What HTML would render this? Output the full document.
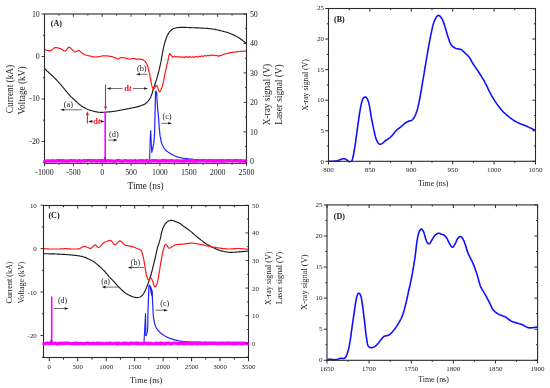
<!DOCTYPE html>
<html><head><meta charset="utf-8"><title>Figure</title>
<style>html,body{margin:0;padding:0;background:#fff;}body{width:550px;height:388px;overflow:hidden;font-family:"Liberation Serif", serif;}svg{display:block;will-change:transform;}</style>
</head><body>
<svg width="550" height="388" viewBox="0 0 550 388" font-family='"Liberation Serif", serif'>
<rect width="550" height="388" fill="#fff"/>
<path d="M44.5,68.5 L45.1,69.1 L45.7,69.6 L46.2,70.2 L46.8,70.7 L47.4,71.3 L48.0,71.8 L48.6,72.4 L49.2,73.0 L49.9,73.6 L50.6,74.2 L51.2,74.8 L51.9,75.4 L52.6,76.0 L53.3,76.7 L53.8,77.2 L54.4,77.8 L54.9,78.3 L55.5,78.9 L56.1,79.5 L56.7,80.1 L57.2,80.7 L57.8,81.3 L58.4,82.0 L58.9,82.6 L59.5,83.2 L60.0,83.8 L60.6,84.4 L61.1,85.0 L61.6,85.7 L62.1,86.3 L62.7,86.9 L63.2,87.6 L63.7,88.2 L64.2,88.8 L64.7,89.4 L65.2,90.0 L65.7,90.6 L66.3,91.3 L66.9,92.0 L67.5,92.7 L68.0,93.3 L68.6,94.0 L69.1,94.6 L69.7,95.3 L70.3,95.9 L70.9,96.5 L71.4,97.1 L72.0,97.6 L72.6,98.2 L73.2,98.7 L73.8,99.3 L74.4,99.8 L75.0,100.4 L75.6,100.9 L76.2,101.5 L76.7,102.0 L77.3,102.6 L78.0,103.1 L78.6,103.7 L79.2,104.2 L79.8,104.7 L80.5,105.2 L81.1,105.7 L81.8,106.2 L82.6,106.7 L83.3,107.2 L84.1,107.6 L84.9,108.0 L85.7,108.4 L86.5,108.8 L87.3,109.2 L88.0,109.5 L88.8,109.8 L89.6,110.1 L90.4,110.3 L91.2,110.6 L92.0,110.8 L92.8,111.0 L93.6,111.3 L94.4,111.4 L95.1,111.6 L96.0,111.8 L96.8,111.9 L97.6,112.1 L98.4,112.2 L99.2,112.2 L100.0,112.3 L100.9,112.3 L101.8,112.3 L102.7,112.3 L103.6,112.2 L104.5,112.2 L105.5,112.1 L106.2,112.1 L107.0,112.0 L107.8,112.0 L108.6,111.9 L109.4,111.8 L110.3,111.8 L111.1,111.7 L111.9,111.6 L112.8,111.5 L113.6,111.4 L114.4,111.3 L115.2,111.2 L116.0,111.0 L116.9,110.9 L117.7,110.7 L118.5,110.5 L119.4,110.4 L120.2,110.2 L121.0,110.0 L121.9,109.9 L122.7,109.7 L123.5,109.5 L124.4,109.4 L125.3,109.2 L126.2,109.1 L127.0,108.9 L127.9,108.7 L128.7,108.6 L129.6,108.4 L130.4,108.3 L131.1,108.1 L131.8,108.0 L132.7,107.8 L133.6,107.6 L134.4,107.5 L135.2,107.3 L136.0,107.1 L136.9,106.9 L137.8,106.6 L138.8,106.4 L139.7,106.1 L140.6,105.8 L141.4,105.5 L142.2,105.2 L143.0,104.9 L143.8,104.6 L144.5,104.2 L145.3,103.7 L146.1,103.0 L146.9,102.4 L147.6,101.7 L148.2,101.0 L148.8,100.2 L149.4,99.4 L149.9,98.6 L150.4,97.8 L150.8,96.9 L151.1,96.0 L151.5,95.1 L151.8,94.2 L152.1,93.4 L152.3,92.5 L152.6,91.6 L152.8,90.8 L153.1,90.1 L153.3,89.3 L153.5,88.5 L153.8,87.7 L154.0,86.9 L154.3,86.2 L154.5,85.4 L154.8,84.6 L155.1,83.8 L155.3,83.1 L155.6,82.2 L155.9,81.4 L156.2,80.6 L156.5,79.6 L156.7,79.0 L156.9,78.3 L157.1,77.5 L157.3,76.7 L157.6,75.9 L157.8,75.1 L158.0,74.2 L158.3,73.3 L158.5,72.5 L158.7,71.6 L158.9,70.8 L159.1,70.0 L159.3,69.2 L159.5,68.4 L159.6,67.6 L159.8,66.8 L160.0,66.0 L160.2,65.2 L160.4,64.4 L160.5,63.6 L160.7,62.9 L160.8,62.1 L161.0,61.3 L161.2,60.4 L161.3,59.6 L161.5,58.7 L161.6,57.9 L161.8,57.1 L161.9,56.2 L162.1,55.4 L162.2,54.6 L162.4,53.8 L162.5,53.0 L162.7,52.1 L162.8,51.3 L163.0,50.4 L163.2,49.6 L163.3,48.8 L163.5,48.0 L163.6,47.2 L163.8,46.5 L164.0,45.7 L164.2,44.9 L164.4,44.1 L164.6,43.4 L164.8,42.6 L165.0,41.8 L165.3,41.1 L165.5,40.3 L165.8,39.5 L166.0,38.7 L166.3,38.0 L166.7,37.1 L167.1,36.1 L167.5,35.3 L167.9,34.4 L168.4,33.6 L168.9,32.8 L169.4,32.0 L170.0,31.3 L170.6,30.7 L171.2,30.1 L171.8,29.6 L172.5,29.2 L173.2,28.8 L173.9,28.5 L174.7,28.2 L175.5,28.0 L176.2,27.8 L177.0,27.7 L177.8,27.6 L178.7,27.5 L179.6,27.5 L180.5,27.4 L181.4,27.4 L182.2,27.4 L183.0,27.4 L183.9,27.4 L184.7,27.4 L185.6,27.4 L186.5,27.5 L187.4,27.5 L188.3,27.5 L189.1,27.6 L190.0,27.6 L190.8,27.6 L191.6,27.7 L192.4,27.7 L193.2,27.7 L194.0,27.7 L194.8,27.8 L195.6,27.8 L196.4,27.8 L197.2,27.9 L198.0,27.9 L198.9,27.9 L199.7,28.0 L200.6,28.0 L201.4,28.1 L202.3,28.1 L203.1,28.1 L203.9,28.2 L204.7,28.2 L205.5,28.3 L206.5,28.4 L207.4,28.4 L208.3,28.5 L209.2,28.6 L210.1,28.7 L211.0,28.8 L211.8,28.9 L212.7,29.0 L213.5,29.2 L214.3,29.3 L215.2,29.4 L216.0,29.6 L216.8,29.8 L217.7,30.0 L218.5,30.2 L219.4,30.4 L220.2,30.6 L221.0,30.8 L221.8,31.0 L222.7,31.2 L223.5,31.4 L224.2,31.6 L225.0,31.8 L225.8,32.0 L226.6,32.2 L227.4,32.4 L228.2,32.7 L228.9,33.0 L229.7,33.3 L230.5,33.6 L231.4,34.0 L232.2,34.3 L233.0,34.7 L233.8,35.1 L234.6,35.4 L235.4,35.8 L236.2,36.3 L236.9,36.7 L237.7,37.1 L238.4,37.5 L239.2,38.0 L239.9,38.5 L240.6,39.0 L241.3,39.5 L242.0,40.0 L242.7,40.5 L243.3,41.1 L244.0,41.6 L244.7,42.2 L245.3,42.7 L246.0,43.3" fill="none" stroke="#1a1a1a" stroke-width="1.15" stroke-linejoin="round" stroke-linecap="round" />
<path d="M44.5,160.6 L104.2,160.6 L104.8,157.5 L105.4,160.6 L149.6,160.6 L150.2,138.0 L150.7,130.5 L151.2,142.0 L151.8,152.5 L152.8,148.0" fill="none" stroke="#2020ff" stroke-width="1.1" stroke-linejoin="round" stroke-linecap="round" />
<path d="M152.8,148.0 L153.0,147.2 L153.1,146.4 L153.3,145.6 L153.5,144.7 L153.7,143.9 L153.8,143.0 L153.9,142.2 L154.0,141.4 L154.1,140.5 L154.2,139.7 L154.2,138.8 L154.3,137.9 L154.3,137.0 L154.4,136.0 L154.4,135.3 L154.5,134.6 L154.5,133.8 L154.5,133.1 L154.6,132.3 L154.6,131.5 L154.6,130.7 L154.6,129.8 L154.7,129.0 L154.7,128.2 L154.7,127.4 L154.7,126.5 L154.8,125.7 L154.8,124.8 L154.8,124.0 L154.8,123.2 L154.8,122.4 L154.9,121.6 L154.9,120.8 L154.9,119.9 L154.9,119.1 L154.9,118.3 L154.9,117.4 L155.0,116.6 L155.0,115.7 L155.0,114.9 L155.0,114.1 L155.0,113.2 L155.0,112.4 L155.1,111.6 L155.1,110.8 L155.1,110.0 L155.1,109.2 L155.1,108.3 L155.2,107.5 L155.2,106.6 L155.2,105.8 L155.2,105.0 L155.2,104.1 L155.2,103.3 L155.3,102.5 L155.3,101.7 L155.3,100.9 L155.3,100.2 L155.3,99.4 L155.4,98.7 L155.4,98.0 L155.4,97.0 L155.5,95.9 L155.5,94.7 L155.5,93.7 L155.5,92.7 L155.6,91.9 L155.7,91.4 L155.8,91.2 L156.1,91.6 L156.5,92.5 L156.6,93.1 L156.7,93.7 L156.8,94.5 L156.8,95.4 L156.9,96.3 L156.9,97.2 L156.9,98.1 L157.0,99.0 L157.1,99.8 L157.1,100.6 L157.2,101.4 L157.2,102.2 L157.3,103.0 L157.3,103.9 L157.4,104.7 L157.4,105.5 L157.5,106.4 L157.5,107.2 L157.6,108.0 L157.7,108.8 L157.7,109.6 L157.8,110.4 L157.9,111.2 L158.0,111.9 L158.1,112.7 L158.2,113.5 L158.2,114.3 L158.3,115.1 L158.4,116.0 L158.5,116.8 L158.5,117.6 L158.6,118.4 L158.7,119.3 L158.7,120.1 L158.8,121.0 L158.8,121.9 L158.9,122.8 L159.0,123.7 L159.0,124.6 L159.1,125.4 L159.2,126.3 L159.2,127.1 L159.3,127.9 L159.4,128.8 L159.5,129.6 L159.5,130.5 L159.6,131.3 L159.7,132.1 L159.8,132.9 L159.8,133.7 L159.9,134.5 L160.0,135.3 L160.2,136.1 L160.3,136.9 L160.5,137.7 L160.6,138.5 L160.8,139.4 L160.9,140.2 L161.1,141.0 L161.3,141.8 L161.5,142.5 L161.8,143.3 L162.0,144.0 L162.3,144.7 L162.7,145.5 L163.1,146.3 L163.5,147.1 L163.9,147.8 L164.4,148.5 L164.9,149.2 L165.5,149.8 L166.0,150.4 L166.6,150.9 L167.3,151.4 L167.9,151.9 L168.6,152.4 L169.3,152.8 L169.9,153.3 L170.6,153.7 L171.3,154.1 L172.0,154.6 L172.8,154.9 L173.5,155.3 L174.2,155.7 L175.0,156.0 L175.8,156.3 L176.6,156.6 L177.4,156.8 L178.2,157.1 L179.0,157.3 L179.8,157.5 L180.7,157.7 L181.5,157.8 L182.3,158.0 L183.1,158.2 L183.9,158.3 L184.6,158.4 L185.4,158.5 L186.2,158.6 L187.0,158.7 L187.8,158.8 L188.7,158.9 L189.4,159.0 L190.1,159.0 L190.8,159.1 L191.5,159.2 L192.2,159.3 L192.9,159.3 L193.7,159.4 L194.5,159.5 L195.3,159.5 L196.1,159.6 L197.0,159.6 L198.0,159.7 L198.9,159.7 L200.0,159.8 L200.5,159.8 L201.1,159.8 L201.7,159.9 L202.3,159.9 L202.9,159.9 L203.5,159.9 L204.2,160.0 L204.8,160.0 L205.5,160.0 L206.2,160.0 L206.9,160.0 L207.6,160.0 L208.4,160.1 L209.1,160.1 L209.9,160.1 L210.7,160.1 L211.4,160.1 L212.2,160.1 L213.0,160.1 L213.8,160.2 L214.7,160.2 L215.5,160.2 L216.3,160.2 L217.2,160.2 L218.0,160.2 L218.9,160.2 L219.8,160.2 L220.6,160.2 L221.5,160.2 L222.4,160.3 L223.3,160.3 L224.1,160.3 L225.0,160.3 L225.9,160.3 L226.8,160.3 L227.7,160.3 L228.6,160.3 L229.5,160.3 L230.4,160.3 L231.3,160.3 L232.2,160.3 L233.1,160.4 L234.0,160.4 L234.9,160.4 L235.8,160.4 L236.7,160.4 L237.5,160.4 L238.4,160.4 L239.3,160.4 L240.1,160.4 L241.0,160.4 L241.9,160.4 L242.7,160.5 L243.5,160.5 L244.4,160.5 L245.2,160.5 L246.0,160.5" fill="none" stroke="#2020ff" stroke-width="1.2" stroke-linejoin="round" stroke-linecap="round" />
<path d="M44.5,49.2 L45.3,49.6 L46.1,50.0 L47.0,50.3 L47.7,50.5 L48.5,50.6 L49.4,50.7 L50.2,50.7 L51.0,50.5 L51.8,50.1 L52.5,49.4 L53.2,48.7 L54.0,48.1 L54.8,47.7 L55.7,47.6 L56.7,47.6 L57.7,47.8 L58.6,48.1 L59.5,48.3 L60.4,48.6 L61.2,49.1 L62.0,49.5 L62.7,50.0 L63.4,50.5 L64.2,51.0 L64.9,51.1 L65.5,50.8 L66.1,50.3 L66.7,49.5 L67.3,48.7 L67.9,48.0 L68.4,47.4 L69.0,47.2 L69.8,47.4 L70.5,48.0 L71.3,48.8 L72.0,49.5 L72.7,50.2 L73.4,50.9 L74.1,51.5 L74.9,51.9 L75.6,51.8 L76.4,51.5 L77.2,51.0 L78.0,50.7 L78.8,50.6 L79.5,50.9 L80.1,51.3 L80.7,51.9 L81.3,52.5 L82.0,53.0 L82.7,53.4 L83.4,53.9 L84.2,54.3 L84.9,54.7 L85.7,55.0 L86.5,55.3 L87.4,55.5 L88.2,55.7 L89.1,55.8 L90.0,56.0 L90.8,56.2 L91.6,56.4 L92.4,56.6 L93.2,56.8 L94.1,56.9 L95.0,57.0 L95.7,57.0 L96.5,56.9 L97.4,56.8 L98.2,56.7 L99.1,56.5 L100.0,56.4 L100.9,56.2 L101.7,56.0 L102.6,55.9 L103.5,55.8 L104.3,55.8 L105.2,55.8 L106.1,55.9 L107.1,55.9 L108.0,56.0 L108.9,56.1 L109.7,56.3 L110.6,56.4 L111.3,56.5 L112.0,56.7 L113.1,57.0 L114.0,57.4 L115.0,57.8 L115.8,58.1 L116.6,58.5 L117.4,58.8 L118.2,58.9 L119.1,58.6 L120.0,58.0 L121.0,57.6 L121.7,57.5 L122.6,57.6 L123.4,57.7 L124.3,57.9 L125.1,58.0 L125.9,58.2 L126.7,58.4 L127.5,58.7 L128.2,58.9 L129.0,59.0 L129.9,59.0 L130.8,58.8 L131.8,58.7 L132.7,58.5 L133.6,58.5 L134.5,58.6 L135.3,58.8 L136.2,59.1 L137.0,59.2 L138.0,59.2 L139.0,59.2 L140.0,59.2 L140.9,59.3 L141.8,59.4 L142.6,59.6 L143.4,60.0 L144.1,60.6 L144.8,61.2 L145.4,61.9 L146.0,62.7 L146.5,63.5 L146.9,64.2 L147.2,64.9 L147.5,65.7 L147.8,66.5 L148.0,67.2 L148.2,68.0 L148.4,68.8 L148.6,69.6 L148.8,70.5 L149.0,71.2 L149.1,72.0 L149.3,72.9 L149.5,73.7 L149.7,74.6 L149.9,75.5 L150.0,76.4 L150.2,77.3 L150.4,78.2 L150.6,79.1 L150.7,80.0 L150.9,80.9 L151.0,81.8 L151.2,82.7 L151.3,83.6 L151.5,84.4 L151.7,85.2 L151.9,85.9 L152.3,87.0 L152.7,88.0 L153.1,88.9 L153.5,89.2 L154.0,88.8 L154.5,88.0 L155.0,87.2 L155.5,86.4 L156.0,85.6 L156.5,85.3 L156.9,85.7 L157.3,86.6 L157.6,87.6 L158.0,88.6 L158.4,89.6 L158.8,90.6 L159.3,91.5 L159.7,91.8 L160.2,91.5 L160.6,90.6 L161.1,89.5 L161.5,88.5 L161.8,87.7 L162.1,86.9 L162.4,86.0 L162.6,85.0 L162.9,84.0 L163.1,83.3 L163.2,82.6 L163.4,81.9 L163.5,81.1 L163.7,80.3 L163.8,79.5 L164.0,78.7 L164.2,77.8 L164.3,76.9 L164.5,76.1 L164.7,75.2 L164.8,74.3 L165.0,73.5 L165.2,72.7 L165.4,71.9 L165.5,71.0 L165.7,70.2 L165.9,69.3 L166.1,68.4 L166.3,67.5 L166.6,66.6 L166.8,65.8 L166.9,64.9 L167.1,64.1 L167.3,63.3 L167.5,62.6 L167.7,61.9 L167.8,61.2 L168.0,60.2 L168.2,59.2 L168.4,58.3 L168.5,57.5 L168.7,56.7 L168.9,56.0 L169.2,55.0 L169.5,54.0 L169.9,53.6 L170.4,54.2 L171.0,55.2 L171.8,56.0 L172.6,56.8" fill="none" stroke="#ff1a1a" stroke-width="1.2" stroke-linejoin="round" stroke-linecap="round" />
<path d="M172.6,56.9 L173.4,57.0 L174.3,56.4 L175.2,56.4 L175.9,56.9 L176.6,57.0 L177.4,56.6 L178.2,56.7 L179.1,57.2 L180.0,57.0 L180.7,56.7 L181.5,57.0 L182.3,57.5 L183.2,56.9 L184.0,56.8 L184.9,57.4 L185.8,57.2 L186.7,56.6 L187.6,57.1 L188.4,57.4 L189.2,56.8 L190.0,56.7 L190.9,57.3 L191.9,57.1 L192.7,56.7 L193.6,57.1 L194.4,57.3 L195.2,56.7 L196.0,56.6 L196.9,57.1 L197.7,56.9 L198.4,56.3 L199.2,56.3 L200.0,56.7 L200.8,56.4 L201.6,55.9 L202.4,56.1 L203.2,56.5 L204.0,56.0 L204.8,55.5 L205.6,55.9 L206.5,56.0 L207.4,55.4 L208.2,55.4 L209.1,55.8 L210.0,55.4 L210.9,54.9 L211.8,55.6 L212.7,55.4 L213.6,54.9 L214.5,55.2 L215.4,55.6 L216.4,55.3 L217.3,55.6 L218.2,56.3 L219.1,55.9 L219.8,55.6 L220.6,55.7 L221.4,55.4 L222.1,55.0 L222.9,54.7 L223.7,54.4 L224.5,54.1 L225.3,53.9 L226.0,53.7 L226.8,53.5 L227.6,53.3 L228.4,53.1 L229.3,52.9 L230.1,52.8 L230.9,52.6 L231.7,52.5 L232.5,52.3 L233.3,52.2 L234.1,52.1 L234.9,52.0 L235.7,51.9 L236.6,51.8 L237.4,51.7 L238.2,51.6 L239.0,51.5 L239.8,51.5 L240.7,51.4 L241.5,51.3 L242.3,51.3 L243.1,51.2 L244.0,51.2 L244.8,51.2 L245.6,51.1" fill="none" stroke="#ff1a1a" stroke-width="1.2" stroke-linejoin="round" stroke-linecap="round" />
<rect x="44.50" y="14.00" width="202.00" height="149.30" fill="none" stroke="#2a2a2a" stroke-width="1.1"/>
<path d="M44.8,161.0 L45.4,161.1 L46.0,160.9 L46.6,161.2 L47.2,160.7 L47.8,161.0 L48.4,160.9 L49.0,160.9 L49.6,160.8 L50.2,161.2 L50.8,161.3 L51.4,160.8 L52.0,161.0 L52.6,160.5 L53.2,161.0 L53.8,161.0 L54.4,161.3 L55.0,161.1 L55.6,160.7 L56.2,160.7 L56.8,161.0 L57.4,160.4 L58.0,160.8 L58.6,160.6 L59.2,160.5 L59.8,160.5 L60.4,161.1 L61.0,160.5 L61.6,160.6 L62.2,160.8 L62.8,161.2 L63.4,160.5 L64.0,160.8 L64.6,160.9 L65.2,161.2 L65.8,161.1 L66.4,161.2 L67.0,160.7 L67.6,160.8 L68.2,160.7 L68.8,161.2 L69.4,161.3 L70.0,160.5 L70.6,160.6 L71.2,160.6 L71.8,160.6 L72.4,160.8 L73.0,160.9 L73.6,160.6 L74.2,160.4 L74.8,160.8 L75.4,160.7 L76.0,160.9 L76.6,161.3 L77.2,161.0 L77.8,160.9 L78.4,161.0 L79.0,161.0 L79.6,160.4 L80.2,161.2 L80.8,161.1 L81.4,161.2 L82.0,161.1 L82.6,160.8 L83.2,160.8 L83.8,160.5 L84.4,161.0 L85.0,160.5 L85.6,160.5 L86.2,160.6 L86.8,160.5 L87.4,160.7 L88.0,160.4 L88.6,160.4 L89.2,160.5 L89.8,160.5 L90.4,160.7 L91.0,160.4 L91.6,161.2 L92.2,161.0 L92.8,160.5 L93.4,160.6 L94.0,160.7 L94.6,160.7 L95.2,160.5 L95.8,161.2 L96.4,161.3 L97.0,160.8 L97.6,160.8 L98.2,160.5 L98.8,160.5 L99.4,160.7 L100.0,160.6 L100.6,161.1 L101.2,160.5 L101.8,160.4 L102.4,161.3 L103.0,160.9 L103.6,160.5 L104.2,160.9 L104.8,160.4 L105.4,160.9 L106.0,161.3 L106.6,161.2 L107.2,161.0 L107.8,160.6 L108.4,160.7 L109.0,160.6 L109.6,161.1 L110.2,160.9 L110.8,161.1 L111.4,160.7 L112.0,160.6 L112.6,161.1 L113.2,161.3 L113.8,161.2 L114.4,161.1 L115.0,161.1 L115.6,161.1 L116.2,160.6 L116.8,160.9 L117.4,160.7 L118.0,160.4 L118.6,160.4 L119.2,160.7 L119.8,160.6 L120.4,161.0 L121.0,161.3 L121.6,160.8 L122.2,161.2 L122.8,161.3 L123.4,161.3 L124.0,160.7 L124.6,160.6 L125.2,160.6 L125.8,160.6 L126.4,160.6 L127.0,161.0 L127.6,161.2 L128.2,161.2 L128.8,160.8 L129.4,161.0 L130.0,161.1 L130.6,160.5 L131.2,161.0 L131.8,161.2 L132.4,161.1 L133.0,161.1 L133.6,160.8 L134.2,160.6 L134.8,161.1 L135.4,160.7 L136.0,161.1 L136.6,161.3 L137.2,160.8 L137.8,160.8 L138.4,161.3 L139.0,161.1 L139.6,160.6 L140.2,160.5 L140.8,160.5 L141.4,161.2 L142.0,161.1 L142.6,160.5 L143.2,161.1 L143.8,161.3 L144.4,161.0 L145.0,160.7 L145.6,160.9 L146.2,160.5 L146.8,160.4 L147.4,161.3 L148.0,161.0 L148.6,160.9 L149.2,161.2 L149.8,160.8 L150.4,161.2 L151.0,161.1 L151.6,160.6 L152.2,160.6 L152.8,160.7 L153.4,160.6 L154.0,160.9 L154.6,160.6 L155.2,160.8 L155.8,160.5 L156.4,161.2 L157.0,160.7 L157.6,160.8 L158.2,160.9 L158.8,161.2 L159.4,160.8 L160.0,161.2 L160.6,160.9 L161.2,160.9 L161.8,160.9 L162.4,160.4 L163.0,160.8 L163.6,160.6 L164.2,160.4 L164.8,161.1 L165.4,160.6 L166.0,160.8 L166.6,161.1 L167.2,160.9 L167.8,160.7 L168.4,160.9 L169.0,160.9 L169.6,161.1 L170.2,160.5 L170.8,160.9 L171.4,160.6 L172.0,160.6 L172.6,161.1 L173.2,160.9 L173.8,160.9 L174.4,161.1 L175.0,161.2 L175.6,160.8 L176.2,161.0 L176.8,160.9 L177.4,160.9 L178.0,161.0 L178.6,160.8 L179.2,160.9 L179.8,160.8 L180.4,161.2 L181.0,161.0 L181.6,161.2 L182.2,161.2 L182.8,160.6 L183.4,160.9 L184.0,161.2 L184.6,161.2 L185.2,160.5 L185.8,160.5 L186.4,160.8 L187.0,160.5 L187.6,160.6 L188.2,160.5 L188.8,161.0 L189.4,161.1 L190.0,161.2 L190.6,160.5 L191.2,161.0 L191.8,161.0 L192.4,160.5 L193.0,161.2 L193.6,161.3 L194.2,160.6 L194.8,161.3 L195.4,160.8 L196.0,160.8 L196.6,161.3 L197.2,161.1 L197.8,160.5 L198.4,160.8 L199.0,160.9 L199.6,160.7 L200.2,160.6 L200.8,160.7 L201.4,161.0 L202.0,160.4 L202.6,160.9 L203.2,160.8 L203.8,160.4 L204.4,160.7 L205.0,161.0 L205.6,160.9 L206.2,160.5 L206.8,161.3 L207.4,161.1 L208.0,161.3 L208.6,160.5 L209.2,160.6 L209.8,160.4 L210.4,161.1 L211.0,160.6 L211.6,160.5 L212.2,160.8 L212.8,161.2 L213.4,161.1 L214.0,160.6 L214.6,160.5 L215.2,161.2 L215.8,160.9 L216.4,161.0 L217.0,160.5 L217.6,160.5 L218.2,161.0 L218.8,160.8 L219.4,160.5 L220.0,161.2 L220.6,161.0 L221.2,161.1 L221.8,160.5 L222.4,161.2 L223.0,160.5 L223.6,161.2 L224.2,160.8 L224.8,160.7 L225.4,160.9 L226.0,161.2 L226.6,160.6 L227.2,160.5 L227.8,160.9 L228.4,160.6 L229.0,160.5 L229.6,160.5 L230.2,160.4 L230.8,160.6 L231.4,160.7 L232.0,160.7 L232.6,161.1 L233.2,160.7 L233.8,160.9 L234.4,160.6 L235.0,160.7 L235.6,160.4 L236.2,160.6 L236.8,160.4 L237.4,161.1 L238.0,160.9 L238.6,160.6 L239.2,160.8 L239.8,161.2 L240.4,160.5 L241.0,161.1 L241.6,160.8 L242.2,160.8 L242.8,161.2 L243.4,160.8 L244.0,160.9 L244.6,161.0 L245.2,161.3 L245.8,160.7" fill="none" stroke="#ff00ff" stroke-width="3.1" stroke-linejoin="round" stroke-linecap="round" />
<line x1="105.20" y1="112.00" x2="105.20" y2="160.60" stroke="#ff00ff" stroke-width="1.6"/>
<line x1="105.30" y1="157.00" x2="105.30" y2="161.00" stroke="#6a00ff" stroke-width="0.8"/>
<line x1="44.50" y1="163.30" x2="44.50" y2="166.10" stroke="#2a2a2a" stroke-width="0.9"/>
<line x1="44.50" y1="14.00" x2="44.50" y2="16.80" stroke="#2a2a2a" stroke-width="0.9"/>
<line x1="58.93" y1="163.30" x2="58.93" y2="164.90" stroke="#2a2a2a" stroke-width="0.9"/>
<line x1="58.93" y1="14.00" x2="58.93" y2="15.60" stroke="#2a2a2a" stroke-width="0.9"/>
<line x1="73.36" y1="163.30" x2="73.36" y2="166.10" stroke="#2a2a2a" stroke-width="0.9"/>
<line x1="73.36" y1="14.00" x2="73.36" y2="16.80" stroke="#2a2a2a" stroke-width="0.9"/>
<line x1="87.79" y1="163.30" x2="87.79" y2="164.90" stroke="#2a2a2a" stroke-width="0.9"/>
<line x1="87.79" y1="14.00" x2="87.79" y2="15.60" stroke="#2a2a2a" stroke-width="0.9"/>
<line x1="102.21" y1="163.30" x2="102.21" y2="166.10" stroke="#2a2a2a" stroke-width="0.9"/>
<line x1="102.21" y1="14.00" x2="102.21" y2="16.80" stroke="#2a2a2a" stroke-width="0.9"/>
<line x1="116.64" y1="163.30" x2="116.64" y2="164.90" stroke="#2a2a2a" stroke-width="0.9"/>
<line x1="116.64" y1="14.00" x2="116.64" y2="15.60" stroke="#2a2a2a" stroke-width="0.9"/>
<line x1="131.07" y1="163.30" x2="131.07" y2="166.10" stroke="#2a2a2a" stroke-width="0.9"/>
<line x1="131.07" y1="14.00" x2="131.07" y2="16.80" stroke="#2a2a2a" stroke-width="0.9"/>
<line x1="145.50" y1="163.30" x2="145.50" y2="164.90" stroke="#2a2a2a" stroke-width="0.9"/>
<line x1="145.50" y1="14.00" x2="145.50" y2="15.60" stroke="#2a2a2a" stroke-width="0.9"/>
<line x1="159.93" y1="163.30" x2="159.93" y2="166.10" stroke="#2a2a2a" stroke-width="0.9"/>
<line x1="159.93" y1="14.00" x2="159.93" y2="16.80" stroke="#2a2a2a" stroke-width="0.9"/>
<line x1="174.36" y1="163.30" x2="174.36" y2="164.90" stroke="#2a2a2a" stroke-width="0.9"/>
<line x1="174.36" y1="14.00" x2="174.36" y2="15.60" stroke="#2a2a2a" stroke-width="0.9"/>
<line x1="188.79" y1="163.30" x2="188.79" y2="166.10" stroke="#2a2a2a" stroke-width="0.9"/>
<line x1="188.79" y1="14.00" x2="188.79" y2="16.80" stroke="#2a2a2a" stroke-width="0.9"/>
<line x1="203.21" y1="163.30" x2="203.21" y2="164.90" stroke="#2a2a2a" stroke-width="0.9"/>
<line x1="203.21" y1="14.00" x2="203.21" y2="15.60" stroke="#2a2a2a" stroke-width="0.9"/>
<line x1="217.64" y1="163.30" x2="217.64" y2="166.10" stroke="#2a2a2a" stroke-width="0.9"/>
<line x1="217.64" y1="14.00" x2="217.64" y2="16.80" stroke="#2a2a2a" stroke-width="0.9"/>
<line x1="232.07" y1="163.30" x2="232.07" y2="164.90" stroke="#2a2a2a" stroke-width="0.9"/>
<line x1="232.07" y1="14.00" x2="232.07" y2="15.60" stroke="#2a2a2a" stroke-width="0.9"/>
<line x1="246.50" y1="163.30" x2="246.50" y2="166.10" stroke="#2a2a2a" stroke-width="0.9"/>
<line x1="246.50" y1="14.00" x2="246.50" y2="16.80" stroke="#2a2a2a" stroke-width="0.9"/>
<line x1="41.50" y1="14.05" x2="44.50" y2="14.05" stroke="#2a2a2a" stroke-width="0.9"/>
<line x1="42.90" y1="35.27" x2="44.50" y2="35.27" stroke="#2a2a2a" stroke-width="0.9"/>
<line x1="41.50" y1="56.50" x2="44.50" y2="56.50" stroke="#2a2a2a" stroke-width="0.9"/>
<line x1="42.90" y1="77.72" x2="44.50" y2="77.72" stroke="#2a2a2a" stroke-width="0.9"/>
<line x1="41.50" y1="98.95" x2="44.50" y2="98.95" stroke="#2a2a2a" stroke-width="0.9"/>
<line x1="42.90" y1="120.18" x2="44.50" y2="120.18" stroke="#2a2a2a" stroke-width="0.9"/>
<line x1="41.50" y1="141.40" x2="44.50" y2="141.40" stroke="#2a2a2a" stroke-width="0.9"/>
<line x1="42.90" y1="162.62" x2="44.50" y2="162.62" stroke="#2a2a2a" stroke-width="0.9"/>
<line x1="243.50" y1="161.30" x2="246.50" y2="161.30" stroke="#2a2a2a" stroke-width="0.9"/>
<line x1="244.90" y1="146.57" x2="246.50" y2="146.57" stroke="#2a2a2a" stroke-width="0.9"/>
<line x1="243.50" y1="131.84" x2="246.50" y2="131.84" stroke="#2a2a2a" stroke-width="0.9"/>
<line x1="244.90" y1="117.11" x2="246.50" y2="117.11" stroke="#2a2a2a" stroke-width="0.9"/>
<line x1="243.50" y1="102.38" x2="246.50" y2="102.38" stroke="#2a2a2a" stroke-width="0.9"/>
<line x1="244.90" y1="87.65" x2="246.50" y2="87.65" stroke="#2a2a2a" stroke-width="0.9"/>
<line x1="243.50" y1="72.92" x2="246.50" y2="72.92" stroke="#2a2a2a" stroke-width="0.9"/>
<line x1="244.90" y1="58.19" x2="246.50" y2="58.19" stroke="#2a2a2a" stroke-width="0.9"/>
<line x1="243.50" y1="43.46" x2="246.50" y2="43.46" stroke="#2a2a2a" stroke-width="0.9"/>
<line x1="244.90" y1="28.73" x2="246.50" y2="28.73" stroke="#2a2a2a" stroke-width="0.9"/>
<line x1="243.50" y1="14.00" x2="246.50" y2="14.00" stroke="#2a2a2a" stroke-width="0.9"/>
<text x="44.50" y="172.00" font-size="7.90" text-anchor="middle" font-weight="normal" font-style="normal" fill="#222" dominant-baseline="central">-1000</text>
<text x="73.36" y="172.00" font-size="7.90" text-anchor="middle" font-weight="normal" font-style="normal" fill="#222" dominant-baseline="central">-500</text>
<text x="102.21" y="172.00" font-size="7.90" text-anchor="middle" font-weight="normal" font-style="normal" fill="#222" dominant-baseline="central">0</text>
<text x="131.07" y="172.00" font-size="7.90" text-anchor="middle" font-weight="normal" font-style="normal" fill="#222" dominant-baseline="central">500</text>
<text x="159.93" y="172.00" font-size="7.90" text-anchor="middle" font-weight="normal" font-style="normal" fill="#222" dominant-baseline="central">1000</text>
<text x="188.79" y="172.00" font-size="7.90" text-anchor="middle" font-weight="normal" font-style="normal" fill="#222" dominant-baseline="central">1500</text>
<text x="217.64" y="172.00" font-size="7.90" text-anchor="middle" font-weight="normal" font-style="normal" fill="#222" dominant-baseline="central">2000</text>
<text x="246.50" y="172.00" font-size="7.90" text-anchor="middle" font-weight="normal" font-style="normal" fill="#222" dominant-baseline="central">2500</text>
<text x="39.80" y="14.05" font-size="7.90" text-anchor="end" font-weight="normal" font-style="normal" fill="#222" dominant-baseline="central">10</text>
<text x="39.80" y="56.50" font-size="7.90" text-anchor="end" font-weight="normal" font-style="normal" fill="#222" dominant-baseline="central">0</text>
<text x="39.80" y="98.95" font-size="7.90" text-anchor="end" font-weight="normal" font-style="normal" fill="#222" dominant-baseline="central">-10</text>
<text x="39.80" y="141.40" font-size="7.90" text-anchor="end" font-weight="normal" font-style="normal" fill="#222" dominant-baseline="central">-20</text>
<text x="249.90" y="161.80" font-size="7.90" text-anchor="start" font-weight="normal" font-style="normal" fill="#222" dominant-baseline="central">0</text>
<text x="249.90" y="132.34" font-size="7.90" text-anchor="start" font-weight="normal" font-style="normal" fill="#222" dominant-baseline="central">10</text>
<text x="249.90" y="102.88" font-size="7.90" text-anchor="start" font-weight="normal" font-style="normal" fill="#222" dominant-baseline="central">20</text>
<text x="249.90" y="73.42" font-size="7.90" text-anchor="start" font-weight="normal" font-style="normal" fill="#222" dominant-baseline="central">30</text>
<text x="249.90" y="43.96" font-size="7.90" text-anchor="start" font-weight="normal" font-style="normal" fill="#222" dominant-baseline="central">40</text>
<text x="249.90" y="14.50" font-size="7.90" text-anchor="start" font-weight="normal" font-style="normal" fill="#222" dominant-baseline="central">50</text>
<text x="145.60" y="186.30" font-size="9.30" text-anchor="middle" font-weight="normal" font-style="normal" fill="#222" dominant-baseline="central">Time (ns)</text>
<text x="9.60" y="89.00" font-size="9.30" text-anchor="middle" font-weight="normal" font-style="normal" fill="#222" dominant-baseline="central" transform="rotate(-90 9.60 89.00)">Current (kA)</text>
<text x="22.30" y="90.50" font-size="9.30" text-anchor="middle" font-weight="normal" font-style="normal" fill="#222" dominant-baseline="central" transform="rotate(-90 22.30 90.50)">Voltage (kV)</text>
<text x="266.80" y="94.50" font-size="9.30" text-anchor="middle" font-weight="normal" font-style="normal" fill="#222" dominant-baseline="central" transform="rotate(-90 266.80 94.50)">X-ray signal (V)</text>
<text x="278.60" y="94.50" font-size="9.30" text-anchor="middle" font-weight="normal" font-style="normal" fill="#222" dominant-baseline="central" transform="rotate(-90 278.60 94.50)">Laser signal (V)</text>
<text x="56.40" y="23.70" font-size="8.00" text-anchor="middle" font-weight="bold" font-style="normal" fill="#111" dominant-baseline="central">(A)</text>
<text x="68.30" y="104.60" font-size="8.30" text-anchor="middle" font-weight="normal" font-style="normal" fill="#222" dominant-baseline="central">(a)</text>
<line x1="81.90" y1="109.80" x2="64.20" y2="109.80" stroke="#555" stroke-width="0.85"/>
<path d="M60.30,109.80 L64.20,108.50 L64.20,111.10 Z" fill="#111"/>
<text x="141.80" y="68.50" font-size="8.30" text-anchor="middle" font-weight="normal" font-style="normal" fill="#222" dominant-baseline="central">(b)</text>
<line x1="147.50" y1="74.30" x2="139.90" y2="74.30" stroke="#555" stroke-width="0.85"/>
<path d="M136.00,74.30 L139.90,73.00 L139.90,75.60 Z" fill="#111"/>
<text x="167.00" y="116.70" font-size="8.30" text-anchor="middle" font-weight="normal" font-style="normal" fill="#222" dominant-baseline="central">(c)</text>
<line x1="161.30" y1="123.30" x2="168.20" y2="123.30" stroke="#555" stroke-width="0.85"/>
<path d="M172.10,123.30 L168.20,122.00 L168.20,124.60 Z" fill="#111"/>
<text x="113.90" y="134.10" font-size="8.30" text-anchor="middle" font-weight="normal" font-style="normal" fill="#222" dominant-baseline="central">(d)</text>
<line x1="108.20" y1="140.10" x2="113.60" y2="140.10" stroke="#555" stroke-width="0.85"/>
<path d="M117.50,140.10 L113.60,138.80 L113.60,141.40 Z" fill="#111"/>
<line x1="105.50" y1="84.60" x2="105.50" y2="106.20" stroke="#b8323c" stroke-width="1.1"/>
<path d="M105.50,110.60 L103.95,106.20 L107.05,106.20 Z" fill="#b8323c"/>
<line x1="122.50" y1="88.50" x2="110.70" y2="88.50" stroke="#555" stroke-width="0.85"/>
<path d="M106.80,88.50 L110.70,87.20 L110.70,89.80 Z" fill="#111"/>
<line x1="133.00" y1="88.50" x2="144.10" y2="88.50" stroke="#555" stroke-width="0.85"/>
<path d="M148.00,88.50 L144.10,87.20 L144.10,89.80 Z" fill="#111"/>
<text x="127.8" y="87.9" font-size="8.5" text-anchor="middle" dominant-baseline="central" fill="#ee1111" font-weight="bold">d<tspan font-style="italic">t</tspan></text>
<line x1="87.40" y1="123.50" x2="87.40" y2="115.30" stroke="#b8323c" stroke-width="1.1"/>
<path d="M87.40,110.90 L85.85,115.30 L88.95,115.30 Z" fill="#b8323c"/>
<line x1="92.80" y1="121.40" x2="92.20" y2="121.40" stroke="#555" stroke-width="0.85"/>
<path d="M88.30,121.40 L92.20,120.10 L92.20,122.70 Z" fill="#111"/>
<line x1="100.80" y1="121.40" x2="100.60" y2="121.40" stroke="#555" stroke-width="0.85"/>
<path d="M104.50,121.40 L100.60,120.10 L100.60,122.70 Z" fill="#111"/>
<text x="96.8" y="120.9" font-size="8.5" text-anchor="middle" dominant-baseline="central" fill="#ee1111" font-weight="bold">d<tspan font-style="italic">t</tspan></text>
<path d="M43.5,253.6 L44.3,253.6 L45.2,253.7 L46.0,253.7 L46.9,253.7 L47.7,253.7 L48.6,253.8 L49.4,253.8 L50.2,253.8 L51.1,253.8 L51.9,253.9 L52.8,253.9 L53.6,253.9 L54.4,253.9 L55.3,254.0 L56.1,254.0 L56.9,254.0 L57.7,254.1 L58.5,254.1 L59.4,254.1 L60.2,254.2 L61.1,254.2 L61.9,254.3 L62.8,254.3 L63.6,254.4 L64.5,254.4 L65.3,254.5 L66.1,254.5 L67.0,254.6 L67.8,254.7 L68.5,254.7 L69.3,254.8 L70.1,254.8 L70.8,254.9 L71.7,255.0 L72.7,255.1 L73.6,255.2 L74.4,255.3 L75.3,255.3 L76.1,255.5 L76.9,255.6 L77.7,255.7 L78.5,255.8 L79.3,255.9 L80.1,256.1 L80.9,256.2 L81.7,256.4 L82.4,256.6 L83.2,256.8 L84.0,257.0 L84.8,257.3 L85.6,257.6 L86.4,257.9 L87.2,258.3 L88.0,258.7 L88.8,259.0 L89.6,259.4 L90.3,259.8 L91.1,260.2 L91.9,260.7 L92.7,261.1 L93.5,261.6 L94.2,262.1 L95.0,262.6 L95.6,263.1 L96.3,263.6 L96.9,264.1 L97.5,264.6 L98.2,265.2 L98.8,265.7 L99.4,266.3 L100.0,266.8 L100.6,267.4 L101.3,268.0 L101.9,268.6 L102.5,269.1 L103.1,269.8 L103.7,270.4 L104.3,271.0 L104.9,271.6 L105.4,272.2 L105.9,272.9 L106.5,273.5 L107.0,274.2 L107.6,274.8 L108.1,275.5 L108.7,276.1 L109.3,276.8 L109.9,277.4 L110.5,278.1 L111.1,278.7 L111.8,279.4 L112.4,280.0 L113.0,280.7 L113.6,281.3 L114.2,281.9 L114.8,282.6 L115.3,283.2 L115.9,283.9 L116.5,284.5 L117.0,285.2 L117.6,285.8 L118.2,286.4 L118.8,287.0 L119.4,287.6 L120.0,288.2 L120.6,288.8 L121.2,289.4 L121.7,290.0 L122.3,290.5 L122.9,291.0 L123.6,291.6 L124.3,292.2 L125.0,292.7 L125.8,293.2 L126.5,293.7 L127.3,294.2 L128.1,294.7 L128.9,295.1 L129.8,295.5 L130.6,295.9 L131.4,296.2 L132.2,296.5 L132.9,296.8 L133.7,297.0 L134.5,297.2 L135.5,297.4 L136.4,297.5 L137.4,297.6 L138.3,297.5 L139.3,297.3 L140.2,297.0 L141.0,296.5 L141.7,295.9 L142.4,295.3 L143.0,294.5 L143.5,293.8 L144.0,293.0 L144.4,292.1 L144.9,291.2 L145.3,290.3 L145.7,289.5 L146.0,288.7 L146.4,287.9 L146.7,287.1 L147.0,286.2 L147.4,285.4 L147.7,284.5 L148.0,283.7 L148.3,282.9 L148.6,282.1 L148.9,281.2 L149.2,280.4 L149.5,279.6 L149.8,278.7 L150.1,277.8 L150.3,277.1 L150.5,276.3 L150.8,275.6 L151.0,274.8 L151.2,274.0 L151.4,273.2 L151.6,272.4 L151.8,271.6 L152.0,270.8 L152.2,270.1 L152.4,269.3 L152.6,268.5 L152.8,267.7 L153.0,266.8 L153.2,266.0 L153.4,265.2 L153.6,264.4 L153.8,263.6 L154.0,262.9 L154.1,262.2 L154.3,261.5 L154.5,260.6 L154.8,259.8 L155.0,259.0 L155.2,258.0 L155.4,257.3 L155.5,256.6 L155.7,255.8 L155.8,255.0 L156.0,254.2 L156.2,253.3 L156.4,252.4 L156.6,251.5 L156.8,250.6 L157.0,249.8 L157.2,248.9 L157.4,248.1 L157.6,247.3 L157.9,246.5 L158.1,245.7 L158.4,244.9 L158.6,244.1 L158.9,243.3 L159.1,242.5 L159.4,241.7 L159.6,240.9 L159.9,240.1 L160.1,239.4 L160.3,238.6 L160.5,237.7 L160.7,236.9 L160.9,236.0 L161.1,235.2 L161.2,234.3 L161.4,233.5 L161.6,232.7 L161.8,231.9 L162.0,231.1 L162.2,230.4 L162.5,229.6 L162.8,228.8 L163.0,228.0 L163.3,227.3 L163.7,226.5 L164.0,225.9 L164.4,225.2 L164.9,224.4 L165.5,223.6 L166.1,222.8 L166.8,222.1 L167.5,221.6 L168.2,221.2 L169.0,220.8 L169.9,220.6 L170.7,220.4 L171.6,220.4 L172.4,220.5 L173.2,220.7 L174.0,220.9 L174.8,221.2 L175.6,221.6 L176.4,221.9 L177.1,222.2 L177.9,222.5 L178.6,222.8 L179.3,223.2 L180.0,223.6 L180.7,224.0 L181.3,224.5 L182.1,225.0 L182.8,225.6 L183.5,226.2 L184.3,226.8 L185.0,227.3 L185.7,227.8 L186.4,228.3 L187.1,228.8 L187.9,229.3 L188.6,229.8 L189.3,230.4 L190.0,230.9 L190.6,231.4 L191.3,231.9 L191.9,232.4 L192.5,233.0 L193.1,233.5 L193.7,234.0 L194.4,234.6 L195.0,235.1 L195.6,235.6 L196.3,236.2 L196.9,236.7 L197.5,237.2 L198.2,237.8 L198.8,238.3 L199.5,238.8 L200.1,239.3 L200.8,239.9 L201.5,240.4 L202.2,240.9 L202.9,241.5 L203.6,242.0 L204.3,242.5 L205.0,243.0 L205.7,243.5 L206.5,243.9 L207.2,244.4 L208.0,244.8 L208.7,245.2 L209.5,245.6 L210.2,246.0 L211.0,246.4 L211.8,246.9 L212.6,247.3 L213.4,247.7 L214.2,248.1 L215.0,248.5 L215.8,248.9 L216.7,249.2 L217.5,249.6 L218.4,249.9 L219.2,250.2 L220.2,250.5 L220.9,250.7 L221.7,250.9 L222.5,251.1 L223.4,251.3 L224.2,251.5 L225.1,251.7 L226.0,251.9 L226.8,252.0 L227.7,252.1 L228.6,252.2 L229.4,252.3 L230.2,252.3 L231.0,252.3 L231.9,252.3 L232.7,252.3 L233.6,252.2 L234.4,252.2 L235.3,252.1 L236.1,252.1 L236.9,252.0 L237.8,252.0 L238.6,251.9 L239.5,251.8 L240.3,251.8 L241.1,251.7 L242.0,251.6 L242.8,251.6 L243.6,251.5 L244.5,251.4 L245.3,251.3 L246.1,251.3 L247.0,251.2 L247.8,251.1" fill="none" stroke="#1a1a1a" stroke-width="1.15" stroke-linejoin="round" stroke-linecap="round" />
<path d="M43.5,342.5 L50.7,342.5 L51.3,339.5 L51.9,342.5 L144.0,342.5 L144.9,325.0 L145.5,313.6 L145.9,335.5" fill="none" stroke="#2020ff" stroke-width="1.1" stroke-linejoin="round" stroke-linecap="round" />
<path d="M145.9,335.5 L146.2,334.7 L146.5,334.0 L146.8,333.3 L147.1,332.5 L147.3,331.5 L147.4,330.9 L147.5,330.3 L147.5,329.6 L147.6,328.9 L147.7,328.2 L147.7,327.4 L147.7,326.6 L147.7,325.7 L147.8,324.9 L147.8,324.0 L147.8,323.1 L147.8,322.2 L147.8,321.2 L147.8,320.3 L147.8,319.4 L147.8,318.5 L147.8,317.6 L147.9,316.7 L147.9,315.8 L147.9,315.0 L147.9,314.2 L148.0,313.4 L148.0,312.6 L148.0,311.7 L148.0,310.9 L148.1,310.1 L148.1,309.3 L148.1,308.4 L148.1,307.6 L148.2,306.8 L148.2,305.9 L148.2,305.1 L148.2,304.3 L148.3,303.5 L148.3,302.7 L148.3,301.9 L148.4,301.1 L148.4,300.3 L148.4,299.5 L148.5,298.8 L148.5,298.0 L148.5,297.0 L148.6,296.0 L148.6,295.0 L148.6,293.8 L148.6,292.7 L148.7,291.6 L148.7,290.5 L148.7,289.5 L148.7,288.6 L148.8,287.7 L148.9,286.9 L148.9,286.3 L149.0,285.8 L149.2,285.4 L149.3,285.3 L149.9,286.0 L150.6,287.3 L151.0,288.1 L151.4,289.0 L151.7,289.9 L152.0,291.0 L152.1,291.7 L152.2,292.3 L152.3,293.1 L152.3,293.8 L152.3,294.6 L152.4,295.4 L152.4,296.3 L152.4,297.2 L152.4,298.1 L152.4,299.0 L152.5,300.0 L152.5,300.7 L152.6,301.4 L152.6,302.1 L152.6,302.9 L152.7,303.6 L152.7,304.5 L152.8,305.3 L152.8,306.1 L152.8,307.0 L152.9,307.9 L152.9,308.8 L152.9,309.7 L153.0,310.5 L153.0,311.4 L153.1,312.3 L153.2,313.2 L153.2,314.0 L153.3,314.9 L153.3,315.7 L153.4,316.5 L153.5,317.3 L153.6,318.0 L153.7,318.7 L153.8,319.4 L153.9,320.0 L154.1,320.9 L154.3,321.8 L154.5,322.7 L154.6,323.5 L154.9,324.3 L155.1,325.0 L155.4,325.7 L155.6,326.4 L155.9,327.1 L156.3,327.8 L156.8,328.6 L157.3,329.3 L157.8,330.0 L158.4,330.7 L159.0,331.4 L159.6,332.0 L160.2,332.6 L160.9,333.2 L161.5,333.7 L162.2,334.2 L162.8,334.7 L163.5,335.1 L164.2,335.5 L164.9,335.9 L165.6,336.3 L166.4,336.7 L167.1,337.1 L167.8,337.4 L168.6,337.8 L169.3,338.1 L170.1,338.4 L170.9,338.7 L171.7,338.9 L172.4,339.2 L173.2,339.4 L174.0,339.7 L174.8,339.9 L175.6,340.1 L176.5,340.3 L177.4,340.5 L178.2,340.7 L179.1,340.9 L179.9,341.0 L180.8,341.2 L181.6,341.3 L182.5,341.4 L183.3,341.5 L184.0,341.6 L184.7,341.7 L185.4,341.7 L186.2,341.8 L187.0,341.8 L187.9,341.9 L188.9,341.9 L190.0,342.0 L190.4,342.0 L190.9,342.0 L191.4,342.1 L191.9,342.1 L192.4,342.1 L192.9,342.1 L193.5,342.1 L194.0,342.1 L194.6,342.1 L195.2,342.2 L195.9,342.2 L196.5,342.2 L197.2,342.2 L197.8,342.2 L198.5,342.2 L199.2,342.2 L199.9,342.2 L200.7,342.2 L201.4,342.3 L202.2,342.3 L202.9,342.3 L203.7,342.3 L204.5,342.3 L205.3,342.3 L206.1,342.3 L206.9,342.3 L207.7,342.3 L208.6,342.3 L209.4,342.3 L210.3,342.3 L211.2,342.3 L212.0,342.3 L212.9,342.3 L213.8,342.3 L214.7,342.4 L215.6,342.4 L216.5,342.4 L217.4,342.4 L218.3,342.4 L219.2,342.4 L220.1,342.4 L221.1,342.4 L222.0,342.4 L222.9,342.4 L223.8,342.4 L224.8,342.4 L225.7,342.4 L226.6,342.4 L227.6,342.4 L228.5,342.4 L229.4,342.4 L230.4,342.4 L231.3,342.4 L232.2,342.4 L233.1,342.4 L234.1,342.4 L235.0,342.4 L235.9,342.4 L236.8,342.4 L237.7,342.4 L238.6,342.4 L239.5,342.4 L240.4,342.4 L241.3,342.5 L242.1,342.5 L243.0,342.5 L243.8,342.5 L244.7,342.5 L245.5,342.5 L246.4,342.5 L247.2,342.5 L248.0,342.5" fill="none" stroke="#2020ff" stroke-width="1.2" stroke-linejoin="round" stroke-linecap="round" />
<path d="M149.3,285.3 L151.0,287.0 L152.6,292.5 L151.6,297 L150.4,292 Z" fill="#2020ff"/>
<path d="M43.5,248.7 L44.3,248.7 L45.1,248.8 L45.9,248.8 L46.7,248.9 L47.5,248.9 L48.3,248.9 L49.1,249.0 L50.0,249.0 L50.8,249.0 L51.6,249.0 L52.5,249.0 L53.3,249.0 L54.2,249.0 L55.1,249.0 L56.0,249.0 L56.8,249.0 L57.7,249.0 L58.5,249.0 L59.4,249.0 L60.2,248.9 L61.1,248.9 L61.9,248.8 L62.8,248.8 L63.6,248.8 L64.4,248.7 L65.2,248.7 L66.0,248.7 L66.9,248.7 L67.7,248.8 L68.6,248.8 L69.4,248.9 L70.3,248.9 L71.1,249.0 L72.0,249.0 L72.8,249.0 L73.6,249.0 L74.5,249.0 L75.4,249.0 L76.3,249.0 L77.1,249.0 L77.9,248.9 L78.7,248.8 L79.3,248.7 L80.3,248.3 L81.2,247.7 L82.0,247.2 L82.8,246.8 L83.6,246.5 L84.4,246.4 L85.2,246.5 L86.1,246.8 L86.9,247.2 L87.8,247.5 L88.6,247.8 L89.3,248.1 L90.1,248.3 L90.9,248.3 L91.6,247.9 L92.3,247.3 L93.1,246.5 L93.8,245.7 L94.5,245.1 L95.2,244.9 L95.9,245.2 L96.5,245.8 L97.1,246.5 L97.7,247.2 L98.3,247.5 L99.2,247.3 L100.0,246.6 L100.6,246.1 L101.2,245.3 L101.8,244.6 L102.4,243.8 L103.1,243.2 L103.8,242.7 L104.6,242.2 L105.4,241.8 L106.2,241.5 L107.0,241.2 L108.0,240.9 L108.9,240.5 L109.9,240.4 L110.8,240.5 L111.4,240.9 L111.9,241.5 L112.5,242.3 L113.0,243.2 L113.5,244.0 L114.1,244.5 L114.7,244.8 L115.3,244.7 L116.0,244.3 L116.7,243.6 L117.4,242.9 L118.1,242.1 L118.8,241.5 L119.4,241.1 L120.1,240.9 L120.8,241.1 L121.4,241.6 L122.1,242.2 L122.7,242.9 L123.4,243.7 L124.0,244.3 L124.7,244.8 L125.5,245.1 L126.2,245.4 L127.0,245.6 L127.8,245.7 L128.6,245.9 L129.6,246.1 L130.5,246.2 L131.5,246.4 L132.5,246.6 L133.3,246.9 L134.1,247.2 L134.9,247.5 L135.7,247.9 L136.4,248.2 L137.1,248.5 L138.1,248.8 L139.0,249.2 L139.8,249.5 L140.5,249.9 L141.2,250.5 L141.6,251.2 L142.0,252.1 L142.2,253.0 L142.5,254.0 L142.7,254.8 L142.9,255.6 L143.1,256.4 L143.3,257.2 L143.5,258.2 L143.6,258.9 L143.8,259.7 L143.9,260.5 L144.1,261.3 L144.2,262.2 L144.4,263.1 L144.5,264.0 L144.7,264.9 L144.8,265.8 L145.0,266.7 L145.1,267.5 L145.2,268.3 L145.4,269.2 L145.5,270.0 L145.7,270.9 L145.8,271.7 L145.9,272.5 L146.1,273.3 L146.2,274.1 L146.4,274.8 L146.6,275.5 L146.9,276.5 L147.2,277.5 L147.5,278.5 L147.8,279.2 L148.2,279.6 L148.8,279.6 L149.3,279.3 L149.9,278.2 L150.5,277.4 L151.1,278.0 L151.7,279.0 L152.1,279.8 L152.4,280.6 L152.8,281.6 L153.1,282.3 L153.3,283.3 L153.6,284.3 L153.9,285.2 L154.2,286.1 L154.5,286.6 L154.8,286.9 L155.4,286.6 L156.1,285.7 L156.7,284.5 L156.9,283.9 L157.2,283.3 L157.4,282.6 L157.5,281.8 L157.7,281.0 L157.9,280.1 L158.1,279.2 L158.2,278.3 L158.4,277.4 L158.5,276.5 L158.7,275.5 L158.8,274.6 L159.0,273.7 L159.1,272.9 L159.3,272.1 L159.4,271.3 L159.6,270.5 L159.7,269.7 L159.8,268.9 L160.0,268.0 L160.1,267.2 L160.2,266.3 L160.3,265.5 L160.5,264.7 L160.6,263.8 L160.7,263.0 L160.9,262.2 L161.0,261.4 L161.2,260.6 L161.3,259.8 L161.5,258.9 L161.6,258.0 L161.8,257.1 L162.0,256.2 L162.1,255.3 L162.3,254.4 L162.5,253.5 L162.6,252.7 L162.8,251.8 L163.0,251.0 L163.2,250.3 L163.4,249.6 L163.6,248.9 L163.9,248.0 L164.2,247.0 L164.5,246.1 L164.9,245.3 L165.2,244.8 L165.6,244.5 L166.3,244.8 L167.0,245.5 L167.5,246.2 L167.9,247.0 L168.4,247.8 L169.0,248.2 L169.7,248.1 L170.5,247.7 L171.4,247.1 L172.2,246.6 L172.9,246.2 L173.7,245.7 L174.4,245.3 L175.2,244.9 L176.0,244.6 L176.8,244.5 L177.5,244.4 L178.3,244.4 L179.1,244.4 L180.0,244.4 L180.7,244.3 L181.5,244.3 L182.3,244.2 L183.1,244.1 L184.0,244.0 L184.8,243.9 L185.6,243.8 L186.4,243.7 L187.3,243.6 L188.2,243.4 L189.0,243.3 L189.9,243.2 L190.8,243.1 L191.7,243.1 L192.5,243.1 L193.2,243.2 L194.1,243.3 L194.9,243.4 L195.7,243.5 L196.6,243.7 L197.5,243.8 L198.3,244.0 L199.2,244.1 L200.1,244.3 L200.9,244.5 L201.7,244.6 L202.6,244.8 L203.4,245.0 L204.2,245.2 L205.1,245.4 L205.9,245.6 L206.8,245.8 L207.7,246.0 L208.5,246.2 L209.4,246.3 L210.2,246.5 L211.0,246.7 L211.9,246.8 L212.7,247.0 L213.6,247.1 L214.4,247.3 L215.3,247.4 L216.1,247.6 L216.9,247.7 L217.8,247.8 L218.6,248.0 L219.4,248.1 L220.2,248.2 L221.1,248.3 L221.9,248.4 L222.7,248.5 L223.6,248.6 L224.4,248.7 L225.2,248.8 L226.0,248.9 L226.9,248.9 L227.7,249.0 L228.6,249.0 L229.4,249.0 L230.2,249.0 L231.0,248.9 L231.9,248.9 L232.7,248.8 L233.6,248.8 L234.4,248.7 L235.3,248.6 L236.1,248.6 L236.9,248.5 L237.8,248.5 L238.6,248.5 L239.5,248.5 L240.3,248.6 L241.1,248.6 L242.0,248.7 L242.8,248.8 L243.6,248.9 L244.5,249.0 L245.3,249.0 L246.1,249.1 L247.0,249.2 L247.8,249.3" fill="none" stroke="#ff1a1a" stroke-width="1.2" stroke-linejoin="round" stroke-linecap="round" />
<rect x="43.50" y="205.50" width="205.00" height="152.00" fill="none" stroke="#2a2a2a" stroke-width="1.1"/>
<path d="M43.8,343.7 L44.4,343.6 L45.0,343.6 L45.6,343.4 L46.2,343.3 L46.8,343.0 L47.4,343.1 L48.0,343.1 L48.6,343.7 L49.2,343.2 L49.8,343.1 L50.4,343.1 L51.0,343.8 L51.6,343.8 L52.2,343.6 L52.8,343.3 L53.4,343.2 L54.0,343.3 L54.6,343.4 L55.2,343.1 L55.8,343.4 L56.4,343.2 L57.0,343.9 L57.6,343.9 L58.2,343.5 L58.8,343.2 L59.4,343.9 L60.0,343.3 L60.6,343.3 L61.2,343.0 L61.8,343.3 L62.4,343.4 L63.0,343.5 L63.6,343.2 L64.2,343.5 L64.8,343.0 L65.4,343.2 L66.0,343.1 L66.6,343.4 L67.2,343.0 L67.8,343.0 L68.4,343.3 L69.0,343.2 L69.6,343.5 L70.2,343.5 L70.8,343.7 L71.4,343.6 L72.0,343.6 L72.6,343.8 L73.2,343.4 L73.8,343.3 L74.4,343.9 L75.0,343.1 L75.6,343.7 L76.2,343.6 L76.8,343.0 L77.4,343.8 L78.0,343.8 L78.6,343.6 L79.2,343.7 L79.8,343.7 L80.4,343.1 L81.0,343.5 L81.6,343.5 L82.2,343.8 L82.8,343.7 L83.4,343.7 L84.0,343.5 L84.6,343.8 L85.2,343.6 L85.8,343.6 L86.4,343.2 L87.0,343.0 L87.6,343.1 L88.2,343.3 L88.8,343.1 L89.4,343.8 L90.0,343.5 L90.6,343.6 L91.2,343.6 L91.8,343.6 L92.4,343.4 L93.0,343.0 L93.6,343.7 L94.2,343.7 L94.8,343.5 L95.4,343.5 L96.0,343.6 L96.6,343.1 L97.2,343.7 L97.8,343.2 L98.4,343.1 L99.0,343.2 L99.6,343.7 L100.2,343.2 L100.8,343.7 L101.4,343.9 L102.0,343.4 L102.6,343.3 L103.2,343.4 L103.8,343.6 L104.4,343.7 L105.0,343.6 L105.6,343.6 L106.2,343.1 L106.8,343.1 L107.4,343.2 L108.0,343.7 L108.6,343.3 L109.2,343.5 L109.8,343.0 L110.4,343.1 L111.0,343.2 L111.6,343.6 L112.2,343.6 L112.8,343.6 L113.4,343.3 L114.0,343.5 L114.6,343.4 L115.2,343.4 L115.8,343.1 L116.4,343.8 L117.0,343.2 L117.6,343.9 L118.2,343.8 L118.8,343.0 L119.4,343.4 L120.0,343.7 L120.6,343.9 L121.2,343.4 L121.8,343.2 L122.4,343.2 L123.0,343.9 L123.6,343.2 L124.2,343.5 L124.8,343.1 L125.4,343.5 L126.0,343.9 L126.6,343.1 L127.2,343.7 L127.8,343.5 L128.4,343.8 L129.0,343.6 L129.6,343.2 L130.2,343.8 L130.8,343.4 L131.4,343.0 L132.0,343.0 L132.6,343.4 L133.2,343.4 L133.8,343.3 L134.4,343.1 L135.0,343.3 L135.6,343.3 L136.2,343.8 L136.8,343.0 L137.4,343.7 L138.0,343.8 L138.6,343.1 L139.2,343.8 L139.8,343.6 L140.4,343.8 L141.0,343.3 L141.6,343.3 L142.2,343.4 L142.8,343.9 L143.4,343.5 L144.0,343.3 L144.6,343.4 L145.2,343.2 L145.8,343.0 L146.4,343.1 L147.0,343.8 L147.6,343.3 L148.2,343.8 L148.8,343.2 L149.4,343.2 L150.0,343.5 L150.6,343.2 L151.2,343.3 L151.8,343.9 L152.4,343.8 L153.0,343.7 L153.6,343.6 L154.2,343.8 L154.8,343.8 L155.4,343.5 L156.0,343.6 L156.6,343.0 L157.2,343.7 L157.8,343.4 L158.4,343.7 L159.0,343.6 L159.6,343.3 L160.2,343.0 L160.8,343.8 L161.4,343.1 L162.0,343.4 L162.6,343.3 L163.2,343.3 L163.8,343.7 L164.4,343.9 L165.0,343.2 L165.6,343.6 L166.2,343.3 L166.8,343.5 L167.4,343.4 L168.0,343.2 L168.6,343.1 L169.2,343.2 L169.8,343.8 L170.4,343.4 L171.0,343.2 L171.6,343.8 L172.2,343.9 L172.8,343.4 L173.4,343.1 L174.0,343.2 L174.6,343.1 L175.2,343.3 L175.8,343.1 L176.4,343.2 L177.0,343.2 L177.6,343.5 L178.2,343.8 L178.8,343.7 L179.4,343.4 L180.0,343.4 L180.6,343.5 L181.2,343.3 L181.8,343.3 L182.4,343.1 L183.0,343.2 L183.6,343.9 L184.2,343.1 L184.8,343.5 L185.4,343.6 L186.0,343.8 L186.6,343.2 L187.2,343.2 L187.8,343.2 L188.4,343.4 L189.0,343.4 L189.6,343.9 L190.2,343.8 L190.8,343.8 L191.4,343.0 L192.0,343.0 L192.6,343.6 L193.2,343.8 L193.8,343.4 L194.4,343.5 L195.0,343.0 L195.6,343.4 L196.2,343.8 L196.8,343.7 L197.4,343.8 L198.0,343.9 L198.6,343.2 L199.2,343.1 L199.8,343.1 L200.4,343.5 L201.0,343.6 L201.6,343.8 L202.2,343.6 L202.8,343.6 L203.4,343.7 L204.0,343.4 L204.6,343.5 L205.2,343.0 L205.8,343.7 L206.4,343.2 L207.0,343.8 L207.6,343.6 L208.2,343.3 L208.8,343.1 L209.4,343.2 L210.0,343.6 L210.6,343.6 L211.2,343.1 L211.8,343.1 L212.4,343.5 L213.0,343.5 L213.6,343.3 L214.2,343.2 L214.8,343.5 L215.4,343.0 L216.0,343.3 L216.6,343.4 L217.2,343.9 L217.8,343.6 L218.4,343.8 L219.0,343.4 L219.6,343.2 L220.2,343.2 L220.8,343.9 L221.4,343.6 L222.0,343.3 L222.6,343.0 L223.2,343.4 L223.8,343.6 L224.4,343.4 L225.0,343.2 L225.6,343.6 L226.2,343.8 L226.8,343.2 L227.4,343.0 L228.0,343.3 L228.6,343.4 L229.2,343.6 L229.8,343.2 L230.4,343.7 L231.0,343.7 L231.6,343.5 L232.2,343.2 L232.8,343.9 L233.4,343.3 L234.0,343.7 L234.6,343.2 L235.2,343.2 L235.8,343.7 L236.4,343.3 L237.0,343.9 L237.6,343.4 L238.2,343.2 L238.8,343.2 L239.4,343.4 L240.0,343.6 L240.6,343.9 L241.2,343.1 L241.8,343.4 L242.4,343.2 L243.0,343.9 L243.6,343.1 L244.2,343.0 L244.8,343.1 L245.4,343.4 L246.0,343.8 L246.6,343.8 L247.2,343.7 L247.8,343.9" fill="none" stroke="#ff00ff" stroke-width="3.1" stroke-linejoin="round" stroke-linecap="round" />
<line x1="51.70" y1="296.50" x2="51.70" y2="343.30" stroke="#ff00ff" stroke-width="1.6"/>
<line x1="51.90" y1="340.50" x2="51.90" y2="344.50" stroke="#6a00ff" stroke-width="0.8"/>
<line x1="49.30" y1="357.50" x2="49.30" y2="361.30" stroke="#2a2a2a" stroke-width="1.0"/>
<line x1="49.30" y1="205.50" x2="49.30" y2="208.54" stroke="#2a2a2a" stroke-width="1.0"/>
<line x1="63.53" y1="357.50" x2="63.53" y2="359.70" stroke="#2a2a2a" stroke-width="1.0"/>
<line x1="63.53" y1="205.50" x2="63.53" y2="207.26" stroke="#2a2a2a" stroke-width="1.0"/>
<line x1="77.76" y1="357.50" x2="77.76" y2="361.30" stroke="#2a2a2a" stroke-width="1.0"/>
<line x1="77.76" y1="205.50" x2="77.76" y2="208.54" stroke="#2a2a2a" stroke-width="1.0"/>
<line x1="91.99" y1="357.50" x2="91.99" y2="359.70" stroke="#2a2a2a" stroke-width="1.0"/>
<line x1="91.99" y1="205.50" x2="91.99" y2="207.26" stroke="#2a2a2a" stroke-width="1.0"/>
<line x1="106.21" y1="357.50" x2="106.21" y2="361.30" stroke="#2a2a2a" stroke-width="1.0"/>
<line x1="106.21" y1="205.50" x2="106.21" y2="208.54" stroke="#2a2a2a" stroke-width="1.0"/>
<line x1="120.44" y1="357.50" x2="120.44" y2="359.70" stroke="#2a2a2a" stroke-width="1.0"/>
<line x1="120.44" y1="205.50" x2="120.44" y2="207.26" stroke="#2a2a2a" stroke-width="1.0"/>
<line x1="134.67" y1="357.50" x2="134.67" y2="361.30" stroke="#2a2a2a" stroke-width="1.0"/>
<line x1="134.67" y1="205.50" x2="134.67" y2="208.54" stroke="#2a2a2a" stroke-width="1.0"/>
<line x1="148.90" y1="357.50" x2="148.90" y2="359.70" stroke="#2a2a2a" stroke-width="1.0"/>
<line x1="148.90" y1="205.50" x2="148.90" y2="207.26" stroke="#2a2a2a" stroke-width="1.0"/>
<line x1="163.13" y1="357.50" x2="163.13" y2="361.30" stroke="#2a2a2a" stroke-width="1.0"/>
<line x1="163.13" y1="205.50" x2="163.13" y2="208.54" stroke="#2a2a2a" stroke-width="1.0"/>
<line x1="177.36" y1="357.50" x2="177.36" y2="359.70" stroke="#2a2a2a" stroke-width="1.0"/>
<line x1="177.36" y1="205.50" x2="177.36" y2="207.26" stroke="#2a2a2a" stroke-width="1.0"/>
<line x1="191.59" y1="357.50" x2="191.59" y2="361.30" stroke="#2a2a2a" stroke-width="1.0"/>
<line x1="191.59" y1="205.50" x2="191.59" y2="208.54" stroke="#2a2a2a" stroke-width="1.0"/>
<line x1="205.81" y1="357.50" x2="205.81" y2="359.70" stroke="#2a2a2a" stroke-width="1.0"/>
<line x1="205.81" y1="205.50" x2="205.81" y2="207.26" stroke="#2a2a2a" stroke-width="1.0"/>
<line x1="220.04" y1="357.50" x2="220.04" y2="361.30" stroke="#2a2a2a" stroke-width="1.0"/>
<line x1="220.04" y1="205.50" x2="220.04" y2="208.54" stroke="#2a2a2a" stroke-width="1.0"/>
<line x1="234.27" y1="357.50" x2="234.27" y2="359.70" stroke="#2a2a2a" stroke-width="1.0"/>
<line x1="234.27" y1="205.50" x2="234.27" y2="207.26" stroke="#2a2a2a" stroke-width="1.0"/>
<line x1="248.50" y1="357.50" x2="248.50" y2="361.30" stroke="#2a2a2a" stroke-width="1.0"/>
<line x1="248.50" y1="205.50" x2="248.50" y2="208.54" stroke="#2a2a2a" stroke-width="1.0"/>
<line x1="40.50" y1="205.15" x2="43.50" y2="205.15" stroke="#2a2a2a" stroke-width="0.9"/>
<line x1="41.90" y1="226.88" x2="43.50" y2="226.88" stroke="#2a2a2a" stroke-width="0.9"/>
<line x1="40.50" y1="248.60" x2="43.50" y2="248.60" stroke="#2a2a2a" stroke-width="0.9"/>
<line x1="41.90" y1="270.32" x2="43.50" y2="270.32" stroke="#2a2a2a" stroke-width="0.9"/>
<line x1="40.50" y1="292.05" x2="43.50" y2="292.05" stroke="#2a2a2a" stroke-width="0.9"/>
<line x1="41.90" y1="313.77" x2="43.50" y2="313.77" stroke="#2a2a2a" stroke-width="0.9"/>
<line x1="40.50" y1="335.50" x2="43.50" y2="335.50" stroke="#2a2a2a" stroke-width="0.9"/>
<line x1="41.90" y1="357.23" x2="43.50" y2="357.23" stroke="#2a2a2a" stroke-width="0.9"/>
<line x1="246.90" y1="357.10" x2="248.50" y2="357.10" stroke="#2a2a2a" stroke-width="0.9"/>
<line x1="245.50" y1="343.30" x2="248.50" y2="343.30" stroke="#2a2a2a" stroke-width="0.9"/>
<line x1="246.90" y1="329.50" x2="248.50" y2="329.50" stroke="#2a2a2a" stroke-width="0.9"/>
<line x1="245.50" y1="315.70" x2="248.50" y2="315.70" stroke="#2a2a2a" stroke-width="0.9"/>
<line x1="246.90" y1="301.90" x2="248.50" y2="301.90" stroke="#2a2a2a" stroke-width="0.9"/>
<line x1="245.50" y1="288.10" x2="248.50" y2="288.10" stroke="#2a2a2a" stroke-width="0.9"/>
<line x1="246.90" y1="274.30" x2="248.50" y2="274.30" stroke="#2a2a2a" stroke-width="0.9"/>
<line x1="245.50" y1="260.50" x2="248.50" y2="260.50" stroke="#2a2a2a" stroke-width="0.9"/>
<line x1="246.90" y1="246.70" x2="248.50" y2="246.70" stroke="#2a2a2a" stroke-width="0.9"/>
<line x1="245.50" y1="232.90" x2="248.50" y2="232.90" stroke="#2a2a2a" stroke-width="0.9"/>
<line x1="246.90" y1="219.10" x2="248.50" y2="219.10" stroke="#2a2a2a" stroke-width="0.9"/>
<line x1="245.50" y1="205.30" x2="248.50" y2="205.30" stroke="#2a2a2a" stroke-width="0.9"/>
<text x="49.30" y="366.80" font-size="6.90" text-anchor="middle" font-weight="normal" font-style="normal" fill="#222" dominant-baseline="central">0</text>
<text x="77.76" y="366.80" font-size="6.90" text-anchor="middle" font-weight="normal" font-style="normal" fill="#222" dominant-baseline="central">500</text>
<text x="106.21" y="366.80" font-size="6.90" text-anchor="middle" font-weight="normal" font-style="normal" fill="#222" dominant-baseline="central">1000</text>
<text x="134.67" y="366.80" font-size="6.90" text-anchor="middle" font-weight="normal" font-style="normal" fill="#222" dominant-baseline="central">1500</text>
<text x="163.13" y="366.80" font-size="6.90" text-anchor="middle" font-weight="normal" font-style="normal" fill="#222" dominant-baseline="central">2000</text>
<text x="191.59" y="366.80" font-size="6.90" text-anchor="middle" font-weight="normal" font-style="normal" fill="#222" dominant-baseline="central">2500</text>
<text x="220.04" y="366.80" font-size="6.90" text-anchor="middle" font-weight="normal" font-style="normal" fill="#222" dominant-baseline="central">3000</text>
<text x="248.50" y="366.80" font-size="6.90" text-anchor="middle" font-weight="normal" font-style="normal" fill="#222" dominant-baseline="central">3500</text>
<text x="36.80" y="205.15" font-size="6.90" text-anchor="end" font-weight="normal" font-style="normal" fill="#222" dominant-baseline="central">10</text>
<text x="36.80" y="248.60" font-size="6.90" text-anchor="end" font-weight="normal" font-style="normal" fill="#222" dominant-baseline="central">0</text>
<text x="36.80" y="292.05" font-size="6.90" text-anchor="end" font-weight="normal" font-style="normal" fill="#222" dominant-baseline="central">-10</text>
<text x="36.80" y="335.50" font-size="6.90" text-anchor="end" font-weight="normal" font-style="normal" fill="#222" dominant-baseline="central">-20</text>
<text x="252.00" y="343.30" font-size="6.90" text-anchor="start" font-weight="normal" font-style="normal" fill="#222" dominant-baseline="central">0</text>
<text x="252.00" y="315.70" font-size="6.90" text-anchor="start" font-weight="normal" font-style="normal" fill="#222" dominant-baseline="central">10</text>
<text x="252.00" y="288.10" font-size="6.90" text-anchor="start" font-weight="normal" font-style="normal" fill="#222" dominant-baseline="central">20</text>
<text x="252.00" y="260.50" font-size="6.90" text-anchor="start" font-weight="normal" font-style="normal" fill="#222" dominant-baseline="central">30</text>
<text x="252.00" y="232.90" font-size="6.90" text-anchor="start" font-weight="normal" font-style="normal" fill="#222" dominant-baseline="central">40</text>
<text x="252.00" y="205.30" font-size="6.90" text-anchor="start" font-weight="normal" font-style="normal" fill="#222" dominant-baseline="central">50</text>
<text x="146.20" y="380.30" font-size="8.30" text-anchor="middle" font-weight="normal" font-style="normal" fill="#222" dominant-baseline="central">Time (ns)</text>
<text x="9.30" y="282.50" font-size="8.10" text-anchor="middle" font-weight="normal" font-style="normal" fill="#222" dominant-baseline="central" transform="rotate(-90 9.30 282.50)">Current (kA)</text>
<text x="21.60" y="282.50" font-size="8.10" text-anchor="middle" font-weight="normal" font-style="normal" fill="#222" dominant-baseline="central" transform="rotate(-90 21.60 282.50)">Voltage (kV)</text>
<text x="268.60" y="278.20" font-size="8.10" text-anchor="middle" font-weight="normal" font-style="normal" fill="#222" dominant-baseline="central" transform="rotate(-90 268.60 278.20)">X-ray signal (V)</text>
<text x="279.00" y="278.00" font-size="8.10" text-anchor="middle" font-weight="normal" font-style="normal" fill="#222" dominant-baseline="central" transform="rotate(-90 279.00 278.00)">Laser signal (V)</text>
<text x="54.00" y="215.80" font-size="8.10" text-anchor="middle" font-weight="bold" font-style="normal" fill="#111" dominant-baseline="central">(C)</text>
<text x="105.60" y="281.50" font-size="8.00" text-anchor="middle" font-weight="normal" font-style="normal" fill="#222" dominant-baseline="central">(a)</text>
<line x1="118.00" y1="287.10" x2="105.60" y2="287.10" stroke="#555" stroke-width="0.85"/>
<path d="M101.70,287.10 L105.60,285.80 L105.60,288.40 Z" fill="#111"/>
<text x="135.50" y="262.10" font-size="8.00" text-anchor="middle" font-weight="normal" font-style="normal" fill="#222" dominant-baseline="central">(b)</text>
<line x1="144.00" y1="267.50" x2="131.70" y2="267.50" stroke="#555" stroke-width="0.85"/>
<path d="M127.80,267.50 L131.70,266.20 L131.70,268.80 Z" fill="#111"/>
<text x="164.80" y="303.70" font-size="8.00" text-anchor="middle" font-weight="normal" font-style="normal" fill="#222" dominant-baseline="central">(c)</text>
<line x1="155.50" y1="310.20" x2="164.00" y2="310.20" stroke="#555" stroke-width="0.85"/>
<path d="M167.90,310.20 L164.00,308.90 L164.00,311.50 Z" fill="#111"/>
<text x="62.60" y="300.80" font-size="8.00" text-anchor="middle" font-weight="normal" font-style="normal" fill="#222" dominant-baseline="central">(d)</text>
<line x1="53.90" y1="308.50" x2="64.70" y2="308.50" stroke="#555" stroke-width="0.85"/>
<path d="M68.60,308.50 L64.70,307.20 L64.70,309.80 Z" fill="#111"/>
<clipPath id="clipB"><rect x="328.50" y="8.50" width="207.00" height="153.40"/></clipPath>
<g clip-path="url(#clipB)">
<path d="M328.5,161.3 L329.4,161.3 L330.3,161.3 L331.2,161.3 L332.1,161.2 L333.0,161.2 L334.0,161.2 L334.9,161.1 L335.9,161.0 L336.8,160.9 L337.6,160.7 L338.4,160.4 L339.2,160.1 L340.0,159.8 L340.9,159.5 L341.8,159.1 L342.7,158.8 L343.5,158.7 L344.4,158.8 L345.2,159.0 L346.0,159.4 L346.7,159.9 L347.4,160.4 L348.0,160.9 L348.8,161.4 L349.6,161.8 L350.5,161.8 L351.4,161.5 L351.8,160.9 L352.2,160.1 L352.5,159.1 L352.7,158.1 L353.0,157.0 L353.2,156.3 L353.3,155.6 L353.5,154.8 L353.7,154.0 L353.8,153.2 L353.9,152.4 L354.1,151.5 L354.2,150.7 L354.4,149.8 L354.5,149.0 L354.6,148.2 L354.8,147.4 L354.9,146.6 L355.0,145.8 L355.2,145.0 L355.3,144.2 L355.4,143.3 L355.5,142.5 L355.7,141.7 L355.8,140.8 L355.9,140.0 L356.0,139.2 L356.1,138.4 L356.2,137.5 L356.3,136.7 L356.4,135.9 L356.6,135.0 L356.7,134.2 L356.8,133.4 L356.9,132.5 L357.0,131.7 L357.1,130.8 L357.2,130.0 L357.3,129.2 L357.4,128.3 L357.5,127.5 L357.7,126.7 L357.8,125.9 L357.9,125.0 L358.0,124.2 L358.1,123.4 L358.2,122.5 L358.4,121.7 L358.5,120.8 L358.6,120.0 L358.7,119.2 L358.8,118.3 L359.0,117.5 L359.1,116.6 L359.2,115.7 L359.3,114.9 L359.5,114.0 L359.6,113.1 L359.7,112.3 L359.9,111.4 L360.0,110.6 L360.2,109.8 L360.3,109.0 L360.5,108.1 L360.6,107.2 L360.8,106.2 L361.0,105.3 L361.2,104.4 L361.4,103.5 L361.6,102.7 L361.8,101.9 L362.0,101.2 L362.2,100.5 L362.6,99.6 L362.9,98.8 L363.3,98.1 L363.8,97.6 L364.6,97.1 L365.4,97.0 L366.1,97.3 L366.7,98.0 L367.3,98.8 L367.6,99.4 L367.9,100.0 L368.1,100.7 L368.4,101.5 L368.6,102.3 L368.8,103.2 L369.0,104.1 L369.2,105.0 L369.4,105.7 L369.5,106.4 L369.7,107.1 L369.8,107.9 L369.9,108.7 L370.1,109.5 L370.2,110.3 L370.3,111.1 L370.5,112.0 L370.6,112.8 L370.7,113.6 L370.9,114.5 L371.0,115.3 L371.1,116.2 L371.3,117.0 L371.4,117.8 L371.6,118.6 L371.7,119.4 L371.9,120.2 L372.1,121.0 L372.2,121.8 L372.4,122.6 L372.5,123.4 L372.7,124.2 L372.9,125.1 L373.0,125.9 L373.2,126.7 L373.4,127.4 L373.5,128.2 L373.7,129.0 L373.8,129.7 L374.0,130.4 L374.2,131.3 L374.4,132.1 L374.5,133.0 L374.7,133.8 L374.9,134.6 L375.1,135.4 L375.3,136.2 L375.5,137.0 L375.7,137.7 L375.9,138.4 L376.2,139.1 L376.6,140.0 L377.0,140.9 L377.5,141.8 L377.9,142.6 L378.4,143.3 L379.0,143.9 L379.5,144.2 L380.3,144.2 L381.1,144.0 L381.9,143.6 L382.7,143.1 L383.5,142.5 L384.2,141.8 L385.0,141.0 L385.7,140.5 L386.4,140.0 L387.3,139.5 L388.1,139.0 L388.9,138.4 L389.6,137.9 L390.3,137.3 L390.9,136.7 L391.5,136.1 L392.1,135.5 L392.7,134.8 L393.2,134.2 L393.8,133.5 L394.3,132.8 L394.9,132.1 L395.4,131.5 L396.0,130.8 L396.6,130.2 L397.2,129.6 L397.9,129.1 L398.5,128.6 L399.2,128.1 L399.8,127.6 L400.5,127.1 L401.1,126.6 L401.8,126.0 L402.5,125.4 L403.2,124.8 L403.8,124.2 L404.5,123.7 L405.1,123.2 L405.9,122.7 L406.6,122.2 L407.4,121.8 L408.2,121.4 L408.9,121.1 L409.7,120.9 L410.6,120.7 L411.3,120.5 L412.0,120.1 L412.7,119.5 L413.3,118.7 L413.9,117.9 L414.4,117.0 L414.8,116.3 L415.1,115.6 L415.5,114.9 L415.8,114.1 L416.1,113.3 L416.4,112.4 L416.7,111.6 L417.0,110.8 L417.2,110.0 L417.4,109.2 L417.7,108.3 L417.9,107.5 L418.1,106.6 L418.3,105.7 L418.5,104.8 L418.7,103.9 L418.9,103.1 L419.0,102.4 L419.2,101.6 L419.3,100.8 L419.5,100.1 L419.6,99.3 L419.8,98.5 L419.9,97.6 L420.1,96.8 L420.2,95.9 L420.4,94.9 L420.5,94.2 L420.6,93.5 L420.8,92.8 L420.9,92.1 L421.0,91.4 L421.2,90.6 L421.3,89.8 L421.4,89.0 L421.6,88.2 L421.7,87.3 L421.9,86.5 L422.0,85.7 L422.2,84.8 L422.3,83.9 L422.4,83.1 L422.6,82.2 L422.7,81.3 L422.9,80.5 L423.0,79.6 L423.2,78.7 L423.3,77.9 L423.5,77.0 L423.6,76.2 L423.8,75.3 L423.9,74.5 L424.0,73.7 L424.2,72.9 L424.3,72.1 L424.4,71.3 L424.6,70.5 L424.7,69.7 L424.8,68.9 L425.0,68.0 L425.1,67.2 L425.2,66.4 L425.4,65.6 L425.5,64.8 L425.6,64.0 L425.8,63.2 L425.9,62.4 L426.0,61.6 L426.2,60.7 L426.3,59.9 L426.5,59.1 L426.6,58.3 L426.7,57.5 L426.9,56.7 L427.0,56.0 L427.1,55.2 L427.3,54.4 L427.4,53.6 L427.5,52.8 L427.7,51.9 L427.8,51.1 L428.0,50.3 L428.1,49.5 L428.3,48.6 L428.4,47.8 L428.5,47.0 L428.7,46.1 L428.8,45.3 L429.0,44.5 L429.1,43.7 L429.3,42.9 L429.4,42.1 L429.6,41.3 L429.7,40.5 L429.9,39.7 L430.0,38.9 L430.2,38.1 L430.3,37.4 L430.5,36.6 L430.6,35.8 L430.8,35.1 L431.0,34.2 L431.2,33.3 L431.4,32.4 L431.5,31.5 L431.7,30.7 L431.9,29.8 L432.1,28.9 L432.3,28.0 L432.5,27.2 L432.6,26.3 L432.9,25.5 L433.1,24.7 L433.3,24.0 L433.5,23.2 L433.8,22.5 L434.0,21.8 L434.3,21.2 L434.7,20.2 L435.2,19.3 L435.7,18.3 L436.2,17.4 L436.7,16.6 L437.2,16.0 L437.8,15.6 L438.3,15.4 L438.9,15.5 L439.6,15.9 L440.2,16.5 L440.9,17.3 L441.5,18.1 L442.0,18.9 L442.4,19.5 L442.7,20.2 L443.0,20.9 L443.3,21.7 L443.6,22.4 L443.9,23.3 L444.1,24.1 L444.4,24.9 L444.7,25.8 L444.9,26.5 L445.2,27.2 L445.4,28.0 L445.6,28.7 L445.8,29.5 L446.1,30.3 L446.3,31.1 L446.5,32.0 L446.8,32.8 L447.0,33.6 L447.2,34.4 L447.5,35.2 L447.7,35.9 L447.9,36.7 L448.2,37.4 L448.5,38.2 L448.8,39.0 L449.0,39.9 L449.3,40.7 L449.6,41.5 L449.9,42.2 L450.2,43.0 L450.5,43.7 L450.9,44.3 L451.3,45.0 L451.7,45.5 L452.4,46.2 L453.1,46.8 L453.9,47.3 L454.7,47.8 L455.5,48.2 L456.3,48.5 L457.1,48.7 L457.9,48.9 L458.7,49.0 L459.5,49.0 L460.2,49.2 L461.0,49.5 L461.7,49.9 L462.4,50.5 L463.1,51.1 L463.7,51.7 L464.4,52.4 L465.0,53.0 L465.6,53.6 L466.3,54.2 L467.0,54.8 L467.6,55.4 L468.3,56.1 L468.9,56.8 L469.3,57.4 L469.8,58.0 L470.2,58.7 L470.6,59.4 L471.0,60.2 L471.4,60.9 L471.8,61.7 L472.2,62.5 L472.7,63.2 L473.1,63.9 L473.6,64.5 L474.0,65.2 L474.5,65.9 L475.0,66.6 L475.5,67.3 L475.9,68.0 L476.4,68.7 L476.9,69.4 L477.4,70.2 L477.9,70.9 L478.3,71.5 L478.7,72.2 L479.2,72.8 L479.6,73.5 L480.0,74.2 L480.4,74.8 L480.9,75.5 L481.3,76.2 L481.7,76.9 L482.2,77.6 L482.6,78.3 L483.0,79.0 L483.5,79.7 L483.9,80.5 L484.3,81.2 L484.7,81.9 L485.0,82.6 L485.4,83.3 L485.8,84.0 L486.1,84.7 L486.5,85.4 L486.8,86.2 L487.2,86.9 L487.6,87.7 L487.9,88.4 L488.3,89.1 L488.6,89.9 L489.0,90.6 L489.3,91.3 L489.7,92.0 L490.1,92.7 L490.4,93.4 L490.8,94.1 L491.2,94.8 L491.6,95.6 L492.0,96.3 L492.4,97.0 L492.8,97.7 L493.3,98.4 L493.7,99.1 L494.1,99.8 L494.5,100.4 L494.9,101.1 L495.4,101.8 L495.8,102.4 L496.3,103.1 L496.7,103.7 L497.2,104.4 L497.7,105.1 L498.2,105.8 L498.7,106.4 L499.2,107.1 L499.8,107.8 L500.3,108.4 L500.8,109.1 L501.4,109.7 L502.0,110.4 L502.5,111.0 L503.1,111.7 L503.7,112.3 L504.4,112.9 L505.0,113.5 L505.6,114.0 L506.2,114.6 L506.8,115.1 L507.5,115.7 L508.1,116.2 L508.8,116.8 L509.5,117.3 L510.2,117.8 L510.9,118.3 L511.6,118.9 L512.3,119.3 L513.0,119.8 L513.7,120.3 L514.4,120.8 L515.1,121.2 L515.8,121.6 L516.5,122.0 L517.2,122.4 L518.0,122.8 L518.7,123.1 L519.5,123.4 L520.3,123.8 L521.0,124.1 L521.8,124.3 L522.5,124.6 L523.3,124.9 L524.0,125.2 L524.8,125.4 L525.5,125.7 L526.2,126.0 L526.9,126.3 L527.7,126.7 L528.4,127.0 L529.2,127.4 L529.9,127.7 L530.7,128.1 L531.4,128.4 L532.1,128.8 L532.8,129.1 L533.5,129.5 L534.3,129.8 L535.0,130.2" fill="none" stroke="#1010ff" stroke-width="1.6" stroke-linejoin="round" stroke-linecap="round" />
</g>
<rect x="328.50" y="8.50" width="207.00" height="152.80" fill="none" stroke="#2a2a2a" stroke-width="1.1"/>
<line x1="328.50" y1="161.30" x2="328.50" y2="164.50" stroke="#2a2a2a" stroke-width="1.0"/>
<line x1="328.50" y1="8.50" x2="328.50" y2="11.70" stroke="#2a2a2a" stroke-width="1.0"/>
<line x1="349.20" y1="161.30" x2="349.20" y2="162.90" stroke="#2a2a2a" stroke-width="1.0"/>
<line x1="349.20" y1="8.50" x2="349.20" y2="10.10" stroke="#2a2a2a" stroke-width="1.0"/>
<line x1="369.90" y1="161.30" x2="369.90" y2="164.50" stroke="#2a2a2a" stroke-width="1.0"/>
<line x1="369.90" y1="8.50" x2="369.90" y2="11.70" stroke="#2a2a2a" stroke-width="1.0"/>
<line x1="390.60" y1="161.30" x2="390.60" y2="162.90" stroke="#2a2a2a" stroke-width="1.0"/>
<line x1="390.60" y1="8.50" x2="390.60" y2="10.10" stroke="#2a2a2a" stroke-width="1.0"/>
<line x1="411.30" y1="161.30" x2="411.30" y2="164.50" stroke="#2a2a2a" stroke-width="1.0"/>
<line x1="411.30" y1="8.50" x2="411.30" y2="11.70" stroke="#2a2a2a" stroke-width="1.0"/>
<line x1="432.00" y1="161.30" x2="432.00" y2="162.90" stroke="#2a2a2a" stroke-width="1.0"/>
<line x1="432.00" y1="8.50" x2="432.00" y2="10.10" stroke="#2a2a2a" stroke-width="1.0"/>
<line x1="452.70" y1="161.30" x2="452.70" y2="164.50" stroke="#2a2a2a" stroke-width="1.0"/>
<line x1="452.70" y1="8.50" x2="452.70" y2="11.70" stroke="#2a2a2a" stroke-width="1.0"/>
<line x1="473.40" y1="161.30" x2="473.40" y2="162.90" stroke="#2a2a2a" stroke-width="1.0"/>
<line x1="473.40" y1="8.50" x2="473.40" y2="10.10" stroke="#2a2a2a" stroke-width="1.0"/>
<line x1="494.10" y1="161.30" x2="494.10" y2="164.50" stroke="#2a2a2a" stroke-width="1.0"/>
<line x1="494.10" y1="8.50" x2="494.10" y2="11.70" stroke="#2a2a2a" stroke-width="1.0"/>
<line x1="514.80" y1="161.30" x2="514.80" y2="162.90" stroke="#2a2a2a" stroke-width="1.0"/>
<line x1="514.80" y1="8.50" x2="514.80" y2="10.10" stroke="#2a2a2a" stroke-width="1.0"/>
<line x1="535.50" y1="161.30" x2="535.50" y2="164.50" stroke="#2a2a2a" stroke-width="1.0"/>
<line x1="535.50" y1="8.50" x2="535.50" y2="11.70" stroke="#2a2a2a" stroke-width="1.0"/>
<line x1="325.30" y1="161.30" x2="328.50" y2="161.30" stroke="#2a2a2a" stroke-width="1.0"/>
<line x1="532.30" y1="161.30" x2="535.50" y2="161.30" stroke="#2a2a2a" stroke-width="1.0"/>
<line x1="326.90" y1="146.02" x2="328.50" y2="146.02" stroke="#2a2a2a" stroke-width="1.0"/>
<line x1="533.90" y1="146.02" x2="535.50" y2="146.02" stroke="#2a2a2a" stroke-width="1.0"/>
<line x1="325.30" y1="130.74" x2="328.50" y2="130.74" stroke="#2a2a2a" stroke-width="1.0"/>
<line x1="532.30" y1="130.74" x2="535.50" y2="130.74" stroke="#2a2a2a" stroke-width="1.0"/>
<line x1="326.90" y1="115.46" x2="328.50" y2="115.46" stroke="#2a2a2a" stroke-width="1.0"/>
<line x1="533.90" y1="115.46" x2="535.50" y2="115.46" stroke="#2a2a2a" stroke-width="1.0"/>
<line x1="325.30" y1="100.18" x2="328.50" y2="100.18" stroke="#2a2a2a" stroke-width="1.0"/>
<line x1="532.30" y1="100.18" x2="535.50" y2="100.18" stroke="#2a2a2a" stroke-width="1.0"/>
<line x1="326.90" y1="84.90" x2="328.50" y2="84.90" stroke="#2a2a2a" stroke-width="1.0"/>
<line x1="533.90" y1="84.90" x2="535.50" y2="84.90" stroke="#2a2a2a" stroke-width="1.0"/>
<line x1="325.30" y1="69.62" x2="328.50" y2="69.62" stroke="#2a2a2a" stroke-width="1.0"/>
<line x1="532.30" y1="69.62" x2="535.50" y2="69.62" stroke="#2a2a2a" stroke-width="1.0"/>
<line x1="326.90" y1="54.34" x2="328.50" y2="54.34" stroke="#2a2a2a" stroke-width="1.0"/>
<line x1="533.90" y1="54.34" x2="535.50" y2="54.34" stroke="#2a2a2a" stroke-width="1.0"/>
<line x1="325.30" y1="39.06" x2="328.50" y2="39.06" stroke="#2a2a2a" stroke-width="1.0"/>
<line x1="532.30" y1="39.06" x2="535.50" y2="39.06" stroke="#2a2a2a" stroke-width="1.0"/>
<line x1="326.90" y1="23.78" x2="328.50" y2="23.78" stroke="#2a2a2a" stroke-width="1.0"/>
<line x1="533.90" y1="23.78" x2="535.50" y2="23.78" stroke="#2a2a2a" stroke-width="1.0"/>
<line x1="325.30" y1="8.50" x2="328.50" y2="8.50" stroke="#2a2a2a" stroke-width="1.0"/>
<line x1="532.30" y1="8.50" x2="535.50" y2="8.50" stroke="#2a2a2a" stroke-width="1.0"/>
<text x="328.50" y="169.50" font-size="7.00" text-anchor="middle" font-weight="normal" font-style="normal" fill="#222" dominant-baseline="central">800</text>
<text x="369.90" y="169.50" font-size="7.00" text-anchor="middle" font-weight="normal" font-style="normal" fill="#222" dominant-baseline="central">850</text>
<text x="411.30" y="169.50" font-size="7.00" text-anchor="middle" font-weight="normal" font-style="normal" fill="#222" dominant-baseline="central">900</text>
<text x="452.70" y="169.50" font-size="7.00" text-anchor="middle" font-weight="normal" font-style="normal" fill="#222" dominant-baseline="central">950</text>
<text x="494.10" y="169.50" font-size="7.00" text-anchor="middle" font-weight="normal" font-style="normal" fill="#222" dominant-baseline="central">1000</text>
<text x="535.50" y="169.50" font-size="7.00" text-anchor="middle" font-weight="normal" font-style="normal" fill="#222" dominant-baseline="central">1050</text>
<text x="323.90" y="161.60" font-size="7.00" text-anchor="end" font-weight="normal" font-style="normal" fill="#222" dominant-baseline="central">0</text>
<text x="323.90" y="130.90" font-size="7.00" text-anchor="end" font-weight="normal" font-style="normal" fill="#222" dominant-baseline="central">5</text>
<text x="323.90" y="100.20" font-size="7.00" text-anchor="end" font-weight="normal" font-style="normal" fill="#222" dominant-baseline="central">10</text>
<text x="323.90" y="69.50" font-size="7.00" text-anchor="end" font-weight="normal" font-style="normal" fill="#222" dominant-baseline="central">15</text>
<text x="323.90" y="38.80" font-size="7.00" text-anchor="end" font-weight="normal" font-style="normal" fill="#222" dominant-baseline="central">20</text>
<text x="323.90" y="8.10" font-size="7.00" text-anchor="end" font-weight="normal" font-style="normal" fill="#222" dominant-baseline="central">25</text>
<text x="433.20" y="183.30" font-size="7.90" text-anchor="middle" font-weight="normal" font-style="normal" fill="#222" dominant-baseline="central">Time (ns)</text>
<text x="305.70" y="84.90" font-size="7.80" text-anchor="middle" font-weight="normal" font-style="normal" fill="#222" dominant-baseline="central" transform="rotate(-90 305.70 84.90)">X-ray signal (V)</text>
<text x="339.40" y="19.10" font-size="8.00" text-anchor="middle" font-weight="bold" font-style="normal" fill="#111" dominant-baseline="central">(B)</text>
<clipPath id="clipD"><rect x="327.00" y="204.90" width="210.60" height="156.00"/></clipPath>
<g clip-path="url(#clipD)">
<path d="M326.7,360.1 L327.5,359.9 L328.3,359.6 L329.1,359.4 L329.9,359.3 L330.7,359.3 L331.5,359.4 L332.3,359.5 L333.2,359.6 L334.0,359.7 L334.7,359.7 L335.7,359.6 L336.7,359.5 L337.6,359.3 L338.6,359.0 L339.5,358.6 L340.5,358.3 L341.5,358.3 L342.5,358.4 L343.5,358.5 L344.4,358.3 L345.2,357.7 L345.8,356.8 L346.3,355.8 L346.6,355.1 L346.9,354.4 L347.2,353.6 L347.5,352.7 L347.8,351.9 L348.0,350.9 L348.3,350.0 L348.5,349.3 L348.7,348.6 L348.8,347.8 L349.0,347.0 L349.2,346.2 L349.3,345.4 L349.5,344.6 L349.6,343.8 L349.8,342.9 L349.9,342.0 L350.1,341.2 L350.2,340.3 L350.3,339.6 L350.4,338.8 L350.6,338.1 L350.7,337.3 L350.8,336.5 L350.9,335.7 L351.0,334.9 L351.1,334.1 L351.2,333.3 L351.3,332.5 L351.4,331.7 L351.5,330.8 L351.7,330.0 L351.8,329.2 L351.9,328.4 L352.0,327.6 L352.1,326.8 L352.2,326.0 L352.3,325.2 L352.4,324.4 L352.6,323.6 L352.7,322.8 L352.8,322.0 L352.9,321.2 L353.0,320.4 L353.2,319.6 L353.3,318.8 L353.4,318.0 L353.5,317.2 L353.6,316.4 L353.7,315.6 L353.9,314.8 L354.0,314.0 L354.1,313.2 L354.2,312.3 L354.3,311.5 L354.5,310.6 L354.6,309.7 L354.7,308.8 L354.8,307.9 L354.9,307.1 L355.1,306.2 L355.2,305.3 L355.3,304.5 L355.4,303.7 L355.6,302.9 L355.7,302.1 L355.9,301.3 L356.0,300.6 L356.2,299.6 L356.4,298.6 L356.6,297.6 L356.8,296.6 L357.1,295.8 L357.3,295.0 L357.6,294.4 L357.9,293.9 L358.6,293.4 L359.3,293.3 L359.8,293.8 L360.3,294.7 L360.8,295.8 L361.0,296.4 L361.2,297.0 L361.3,297.7 L361.5,298.4 L361.6,299.2 L361.8,300.1 L361.9,300.9 L362.0,301.8 L362.2,302.8 L362.3,303.7 L362.4,304.6 L362.5,305.6 L362.7,306.5 L362.8,307.4 L362.9,308.2 L363.0,308.9 L363.1,309.7 L363.2,310.5 L363.3,311.3 L363.4,312.1 L363.5,312.9 L363.6,313.8 L363.7,314.6 L363.8,315.4 L363.9,316.3 L364.0,317.1 L364.1,317.9 L364.2,318.8 L364.3,319.6 L364.4,320.4 L364.5,321.3 L364.6,322.1 L364.7,322.9 L364.8,323.7 L364.9,324.6 L365.0,325.4 L365.1,326.2 L365.2,327.1 L365.3,328.0 L365.4,328.8 L365.5,329.7 L365.5,330.5 L365.6,331.4 L365.7,332.2 L365.8,333.1 L365.9,333.9 L366.0,334.7 L366.1,335.5 L366.2,336.2 L366.4,337.0 L366.5,337.7 L366.6,338.4 L366.8,339.4 L366.9,340.4 L367.1,341.3 L367.2,342.3 L367.3,343.2 L367.5,344.1 L367.7,344.9 L368.0,345.6 L368.3,346.2 L368.6,346.7 L369.5,347.3 L370.5,347.6 L371.5,347.7 L372.3,347.6 L373.1,347.3 L373.9,347.0 L374.7,346.6 L375.4,346.1 L376.0,345.6 L376.6,345.1 L377.2,344.5 L377.7,343.8 L378.3,343.2 L378.9,342.5 L379.5,341.7 L380.0,340.9 L380.6,340.1 L381.2,339.4 L381.8,338.7 L382.4,338.0 L383.0,337.3 L383.7,336.7 L384.4,336.2 L385.2,335.9 L386.1,335.7 L387.1,335.6 L388.0,335.4 L388.8,335.1 L389.5,334.7 L390.2,334.1 L390.8,333.6 L391.4,332.9 L392.0,332.3 L392.6,331.7 L393.1,331.1 L393.7,330.4 L394.2,329.7 L394.8,329.0 L395.3,328.3 L395.8,327.6 L396.3,326.9 L396.7,326.2 L397.2,325.4 L397.7,324.7 L398.1,323.9 L398.6,323.1 L399.0,322.4 L399.5,321.6 L399.9,320.8 L400.3,320.1 L400.8,319.3 L401.2,318.5 L401.5,317.7 L401.9,316.9 L402.2,316.1 L402.5,315.3 L402.8,314.5 L403.1,313.7 L403.3,312.9 L403.6,312.1 L403.8,311.3 L404.1,310.4 L404.3,309.7 L404.5,308.9 L404.7,308.1 L404.9,307.3 L405.1,306.5 L405.3,305.7 L405.5,304.9 L405.7,304.1 L405.9,303.3 L406.1,302.4 L406.3,301.6 L406.5,300.8 L406.7,300.0 L406.9,299.2 L407.0,298.3 L407.2,297.5 L407.4,296.7 L407.6,295.9 L407.8,295.0 L408.0,294.2 L408.1,293.4 L408.3,292.5 L408.5,291.7 L408.7,290.9 L408.9,290.1 L409.1,289.3 L409.2,288.5 L409.4,287.6 L409.6,286.8 L409.8,286.0 L410.0,285.2 L410.2,284.4 L410.3,283.6 L410.5,282.7 L410.7,281.9 L410.9,281.1 L411.0,280.3 L411.2,279.4 L411.4,278.6 L411.5,277.8 L411.7,277.0 L411.8,276.1 L412.0,275.3 L412.2,274.4 L412.3,273.6 L412.5,272.7 L412.6,271.8 L412.8,270.9 L412.9,270.1 L413.1,269.3 L413.2,268.6 L413.3,267.7 L413.5,266.9 L413.6,266.1 L413.8,265.3 L413.9,264.5 L414.0,263.6 L414.2,262.8 L414.3,261.9 L414.4,261.1 L414.6,260.2 L414.7,259.4 L414.8,258.5 L415.0,257.7 L415.1,256.8 L415.2,256.0 L415.3,255.2 L415.4,254.4 L415.5,253.5 L415.6,252.7 L415.7,251.8 L415.8,251.0 L415.9,250.1 L416.0,249.3 L416.1,248.4 L416.2,247.6 L416.3,246.8 L416.4,245.9 L416.5,245.1 L416.6,244.3 L416.7,243.5 L416.8,242.8 L416.9,242.0 L417.0,241.3 L417.1,240.6 L417.3,239.6 L417.4,238.7 L417.6,237.7 L417.7,236.8 L417.9,236.0 L418.1,235.1 L418.3,234.3 L418.5,233.6 L418.7,232.9 L419.0,232.2 L419.5,231.1 L420.1,230.1 L420.7,229.3 L421.3,229.0 L421.9,229.2 L422.4,229.9 L423.0,230.7 L423.5,231.6 L423.8,232.3 L424.1,233.0 L424.3,233.8 L424.6,234.7 L424.8,235.5 L425.0,236.4 L425.3,237.2 L425.5,238.0 L425.8,238.9 L426.1,239.8 L426.4,240.8 L426.7,241.6 L427.0,242.3 L427.4,242.9 L428.3,243.6 L429.3,243.8 L429.8,243.4 L430.3,242.7 L430.9,241.8 L431.4,240.9 L431.9,240.0 L432.3,239.3 L432.8,238.6 L433.2,237.8 L433.7,237.1 L434.1,236.4 L434.6,235.7 L435.1,235.2 L435.9,234.5 L436.7,234.0 L437.5,233.5 L438.3,233.3 L439.1,233.3 L439.9,233.6 L440.7,233.9 L441.5,234.2 L442.4,234.5 L443.3,234.8 L444.1,235.2 L444.8,235.7 L445.5,236.4 L446.1,237.2 L446.7,238.0 L447.1,238.6 L447.5,239.4 L447.8,240.1 L448.2,240.9 L448.5,241.7 L448.9,242.5 L449.3,243.2 L449.8,244.0 L450.3,244.9 L450.9,245.8 L451.4,246.6 L452.0,247.1 L452.5,247.3 L453.0,247.1 L453.6,246.4 L454.1,245.6 L454.6,244.7 L455.1,243.8 L455.5,243.1 L455.8,242.4 L456.2,241.6 L456.5,240.8 L456.8,240.0 L457.2,239.3 L457.6,238.7 L458.2,237.9 L458.9,237.2 L459.5,236.7 L460.2,236.5 L460.9,236.7 L461.5,237.2 L462.2,237.9 L462.8,238.7 L463.2,239.3 L463.5,240.0 L463.9,240.8 L464.2,241.6 L464.5,242.5 L464.8,243.4 L465.1,244.2 L465.4,245.1 L465.7,245.8 L465.9,246.6 L466.2,247.4 L466.4,248.2 L466.7,249.0 L466.9,249.8 L467.1,250.6 L467.4,251.4 L467.6,252.1 L467.9,252.8 L468.2,253.6 L468.6,254.4 L468.9,255.1 L469.3,255.8 L469.6,256.5 L470.0,257.3 L470.3,258.0 L470.7,258.7 L471.0,259.4 L471.4,260.1 L471.8,260.8 L472.2,261.6 L472.5,262.4 L472.9,263.2 L473.2,263.9 L473.5,264.6 L473.8,265.3 L474.1,266.1 L474.4,266.9 L474.7,267.7 L475.0,268.5 L475.3,269.3 L475.6,270.1 L475.9,271.0 L476.2,271.8 L476.5,272.7 L476.8,273.5 L477.0,274.3 L477.3,275.1 L477.5,275.9 L477.7,276.7 L478.0,277.5 L478.2,278.4 L478.4,279.2 L478.6,280.1 L478.8,280.9 L479.0,281.8 L479.3,282.6 L479.5,283.4 L479.8,284.2 L480.0,285.0 L480.3,285.8 L480.6,286.5 L481.0,287.3 L481.4,288.1 L481.8,288.9 L482.2,289.7 L482.7,290.4 L483.2,291.2 L483.6,291.9 L484.1,292.6 L484.5,293.3 L485.0,294.1 L485.4,294.8 L485.8,295.5 L486.2,296.3 L486.6,297.1 L487.0,297.9 L487.4,298.6 L487.8,299.4 L488.2,300.2 L488.6,300.9 L488.9,301.7 L489.3,302.4 L489.7,303.2 L490.1,304.0 L490.5,304.8 L490.9,305.7 L491.3,306.5 L491.7,307.3 L492.1,308.1 L492.5,308.8 L493.0,309.5 L493.5,310.2 L494.1,310.8 L494.7,311.4 L495.3,312.0 L495.9,312.5 L496.6,313.0 L497.3,313.4 L498.0,313.9 L498.7,314.3 L499.5,314.7 L500.3,315.0 L501.1,315.3 L501.9,315.6 L502.7,315.9 L503.6,316.2 L504.4,316.5 L505.2,316.9 L505.9,317.3 L506.7,317.8 L507.4,318.4 L508.1,318.9 L508.9,319.5 L509.6,320.0 L510.3,320.5 L510.9,320.9 L511.6,321.3 L512.4,321.7 L513.2,321.9 L513.9,322.1 L514.7,322.4 L515.5,322.6 L516.2,322.8 L517.0,323.1 L517.8,323.3 L518.6,323.5 L519.4,323.8 L520.3,324.0 L521.1,324.3 L521.9,324.6 L522.6,324.9 L523.4,325.3 L524.1,325.7 L524.9,326.1 L525.6,326.5 L526.3,326.9 L527.1,327.2 L527.7,327.5 L528.4,327.7 L529.4,327.9 L530.4,327.9 L531.3,327.8 L532.3,327.7 L533.2,327.6 L534.2,327.5 L535.1,327.3 L536.1,327.2 L537.0,327.0" fill="none" stroke="#1010ff" stroke-width="1.6" stroke-linejoin="round" stroke-linecap="round" />
</g>
<rect x="327.00" y="204.90" width="210.60" height="155.40" fill="none" stroke="#2a2a2a" stroke-width="1.1"/>
<line x1="327.00" y1="360.30" x2="327.00" y2="363.50" stroke="#2a2a2a" stroke-width="1.0"/>
<line x1="327.00" y1="204.90" x2="327.00" y2="208.10" stroke="#2a2a2a" stroke-width="1.0"/>
<line x1="348.06" y1="360.30" x2="348.06" y2="361.90" stroke="#2a2a2a" stroke-width="1.0"/>
<line x1="348.06" y1="204.90" x2="348.06" y2="206.50" stroke="#2a2a2a" stroke-width="1.0"/>
<line x1="369.12" y1="360.30" x2="369.12" y2="363.50" stroke="#2a2a2a" stroke-width="1.0"/>
<line x1="369.12" y1="204.90" x2="369.12" y2="208.10" stroke="#2a2a2a" stroke-width="1.0"/>
<line x1="390.18" y1="360.30" x2="390.18" y2="361.90" stroke="#2a2a2a" stroke-width="1.0"/>
<line x1="390.18" y1="204.90" x2="390.18" y2="206.50" stroke="#2a2a2a" stroke-width="1.0"/>
<line x1="411.24" y1="360.30" x2="411.24" y2="363.50" stroke="#2a2a2a" stroke-width="1.0"/>
<line x1="411.24" y1="204.90" x2="411.24" y2="208.10" stroke="#2a2a2a" stroke-width="1.0"/>
<line x1="432.30" y1="360.30" x2="432.30" y2="361.90" stroke="#2a2a2a" stroke-width="1.0"/>
<line x1="432.30" y1="204.90" x2="432.30" y2="206.50" stroke="#2a2a2a" stroke-width="1.0"/>
<line x1="453.36" y1="360.30" x2="453.36" y2="363.50" stroke="#2a2a2a" stroke-width="1.0"/>
<line x1="453.36" y1="204.90" x2="453.36" y2="208.10" stroke="#2a2a2a" stroke-width="1.0"/>
<line x1="474.42" y1="360.30" x2="474.42" y2="361.90" stroke="#2a2a2a" stroke-width="1.0"/>
<line x1="474.42" y1="204.90" x2="474.42" y2="206.50" stroke="#2a2a2a" stroke-width="1.0"/>
<line x1="495.48" y1="360.30" x2="495.48" y2="363.50" stroke="#2a2a2a" stroke-width="1.0"/>
<line x1="495.48" y1="204.90" x2="495.48" y2="208.10" stroke="#2a2a2a" stroke-width="1.0"/>
<line x1="516.54" y1="360.30" x2="516.54" y2="361.90" stroke="#2a2a2a" stroke-width="1.0"/>
<line x1="516.54" y1="204.90" x2="516.54" y2="206.50" stroke="#2a2a2a" stroke-width="1.0"/>
<line x1="537.60" y1="360.30" x2="537.60" y2="363.50" stroke="#2a2a2a" stroke-width="1.0"/>
<line x1="537.60" y1="204.90" x2="537.60" y2="208.10" stroke="#2a2a2a" stroke-width="1.0"/>
<line x1="323.80" y1="360.30" x2="327.00" y2="360.30" stroke="#2a2a2a" stroke-width="1.0"/>
<line x1="534.40" y1="360.30" x2="537.60" y2="360.30" stroke="#2a2a2a" stroke-width="1.0"/>
<line x1="325.40" y1="344.76" x2="327.00" y2="344.76" stroke="#2a2a2a" stroke-width="1.0"/>
<line x1="536.00" y1="344.76" x2="537.60" y2="344.76" stroke="#2a2a2a" stroke-width="1.0"/>
<line x1="323.80" y1="329.22" x2="327.00" y2="329.22" stroke="#2a2a2a" stroke-width="1.0"/>
<line x1="534.40" y1="329.22" x2="537.60" y2="329.22" stroke="#2a2a2a" stroke-width="1.0"/>
<line x1="325.40" y1="313.68" x2="327.00" y2="313.68" stroke="#2a2a2a" stroke-width="1.0"/>
<line x1="536.00" y1="313.68" x2="537.60" y2="313.68" stroke="#2a2a2a" stroke-width="1.0"/>
<line x1="323.80" y1="298.14" x2="327.00" y2="298.14" stroke="#2a2a2a" stroke-width="1.0"/>
<line x1="534.40" y1="298.14" x2="537.60" y2="298.14" stroke="#2a2a2a" stroke-width="1.0"/>
<line x1="325.40" y1="282.60" x2="327.00" y2="282.60" stroke="#2a2a2a" stroke-width="1.0"/>
<line x1="536.00" y1="282.60" x2="537.60" y2="282.60" stroke="#2a2a2a" stroke-width="1.0"/>
<line x1="323.80" y1="267.06" x2="327.00" y2="267.06" stroke="#2a2a2a" stroke-width="1.0"/>
<line x1="534.40" y1="267.06" x2="537.60" y2="267.06" stroke="#2a2a2a" stroke-width="1.0"/>
<line x1="325.40" y1="251.52" x2="327.00" y2="251.52" stroke="#2a2a2a" stroke-width="1.0"/>
<line x1="536.00" y1="251.52" x2="537.60" y2="251.52" stroke="#2a2a2a" stroke-width="1.0"/>
<line x1="323.80" y1="235.98" x2="327.00" y2="235.98" stroke="#2a2a2a" stroke-width="1.0"/>
<line x1="534.40" y1="235.98" x2="537.60" y2="235.98" stroke="#2a2a2a" stroke-width="1.0"/>
<line x1="325.40" y1="220.44" x2="327.00" y2="220.44" stroke="#2a2a2a" stroke-width="1.0"/>
<line x1="536.00" y1="220.44" x2="537.60" y2="220.44" stroke="#2a2a2a" stroke-width="1.0"/>
<line x1="323.80" y1="204.90" x2="327.00" y2="204.90" stroke="#2a2a2a" stroke-width="1.0"/>
<line x1="534.40" y1="204.90" x2="537.60" y2="204.90" stroke="#2a2a2a" stroke-width="1.0"/>
<text x="327.00" y="368.50" font-size="7.00" text-anchor="middle" font-weight="normal" font-style="normal" fill="#222" dominant-baseline="central">1650</text>
<text x="369.12" y="368.50" font-size="7.00" text-anchor="middle" font-weight="normal" font-style="normal" fill="#222" dominant-baseline="central">1700</text>
<text x="411.24" y="368.50" font-size="7.00" text-anchor="middle" font-weight="normal" font-style="normal" fill="#222" dominant-baseline="central">1750</text>
<text x="453.36" y="368.50" font-size="7.00" text-anchor="middle" font-weight="normal" font-style="normal" fill="#222" dominant-baseline="central">1800</text>
<text x="495.48" y="368.50" font-size="7.00" text-anchor="middle" font-weight="normal" font-style="normal" fill="#222" dominant-baseline="central">1850</text>
<text x="537.60" y="368.50" font-size="7.00" text-anchor="middle" font-weight="normal" font-style="normal" fill="#222" dominant-baseline="central">1900</text>
<text x="322.40" y="359.80" font-size="7.00" text-anchor="end" font-weight="normal" font-style="normal" fill="#222" dominant-baseline="central">0</text>
<text x="322.40" y="328.85" font-size="7.00" text-anchor="end" font-weight="normal" font-style="normal" fill="#222" dominant-baseline="central">5</text>
<text x="322.40" y="297.90" font-size="7.00" text-anchor="end" font-weight="normal" font-style="normal" fill="#222" dominant-baseline="central">10</text>
<text x="322.40" y="266.95" font-size="7.00" text-anchor="end" font-weight="normal" font-style="normal" fill="#222" dominant-baseline="central">15</text>
<text x="322.40" y="236.00" font-size="7.00" text-anchor="end" font-weight="normal" font-style="normal" fill="#222" dominant-baseline="central">20</text>
<text x="322.40" y="205.05" font-size="7.00" text-anchor="end" font-weight="normal" font-style="normal" fill="#222" dominant-baseline="central">25</text>
<text x="433.50" y="379.80" font-size="7.90" text-anchor="middle" font-weight="normal" font-style="normal" fill="#222" dominant-baseline="central">Time (ns)</text>
<text x="304.20" y="282.20" font-size="8.40" text-anchor="middle" font-weight="normal" font-style="normal" fill="#222" dominant-baseline="central" transform="rotate(-90 304.20 282.20)">X-ray signal (V)</text>
<text x="339.40" y="216.10" font-size="8.00" text-anchor="middle" font-weight="bold" font-style="normal" fill="#111" dominant-baseline="central">(D)</text>
</svg>
</body></html>
